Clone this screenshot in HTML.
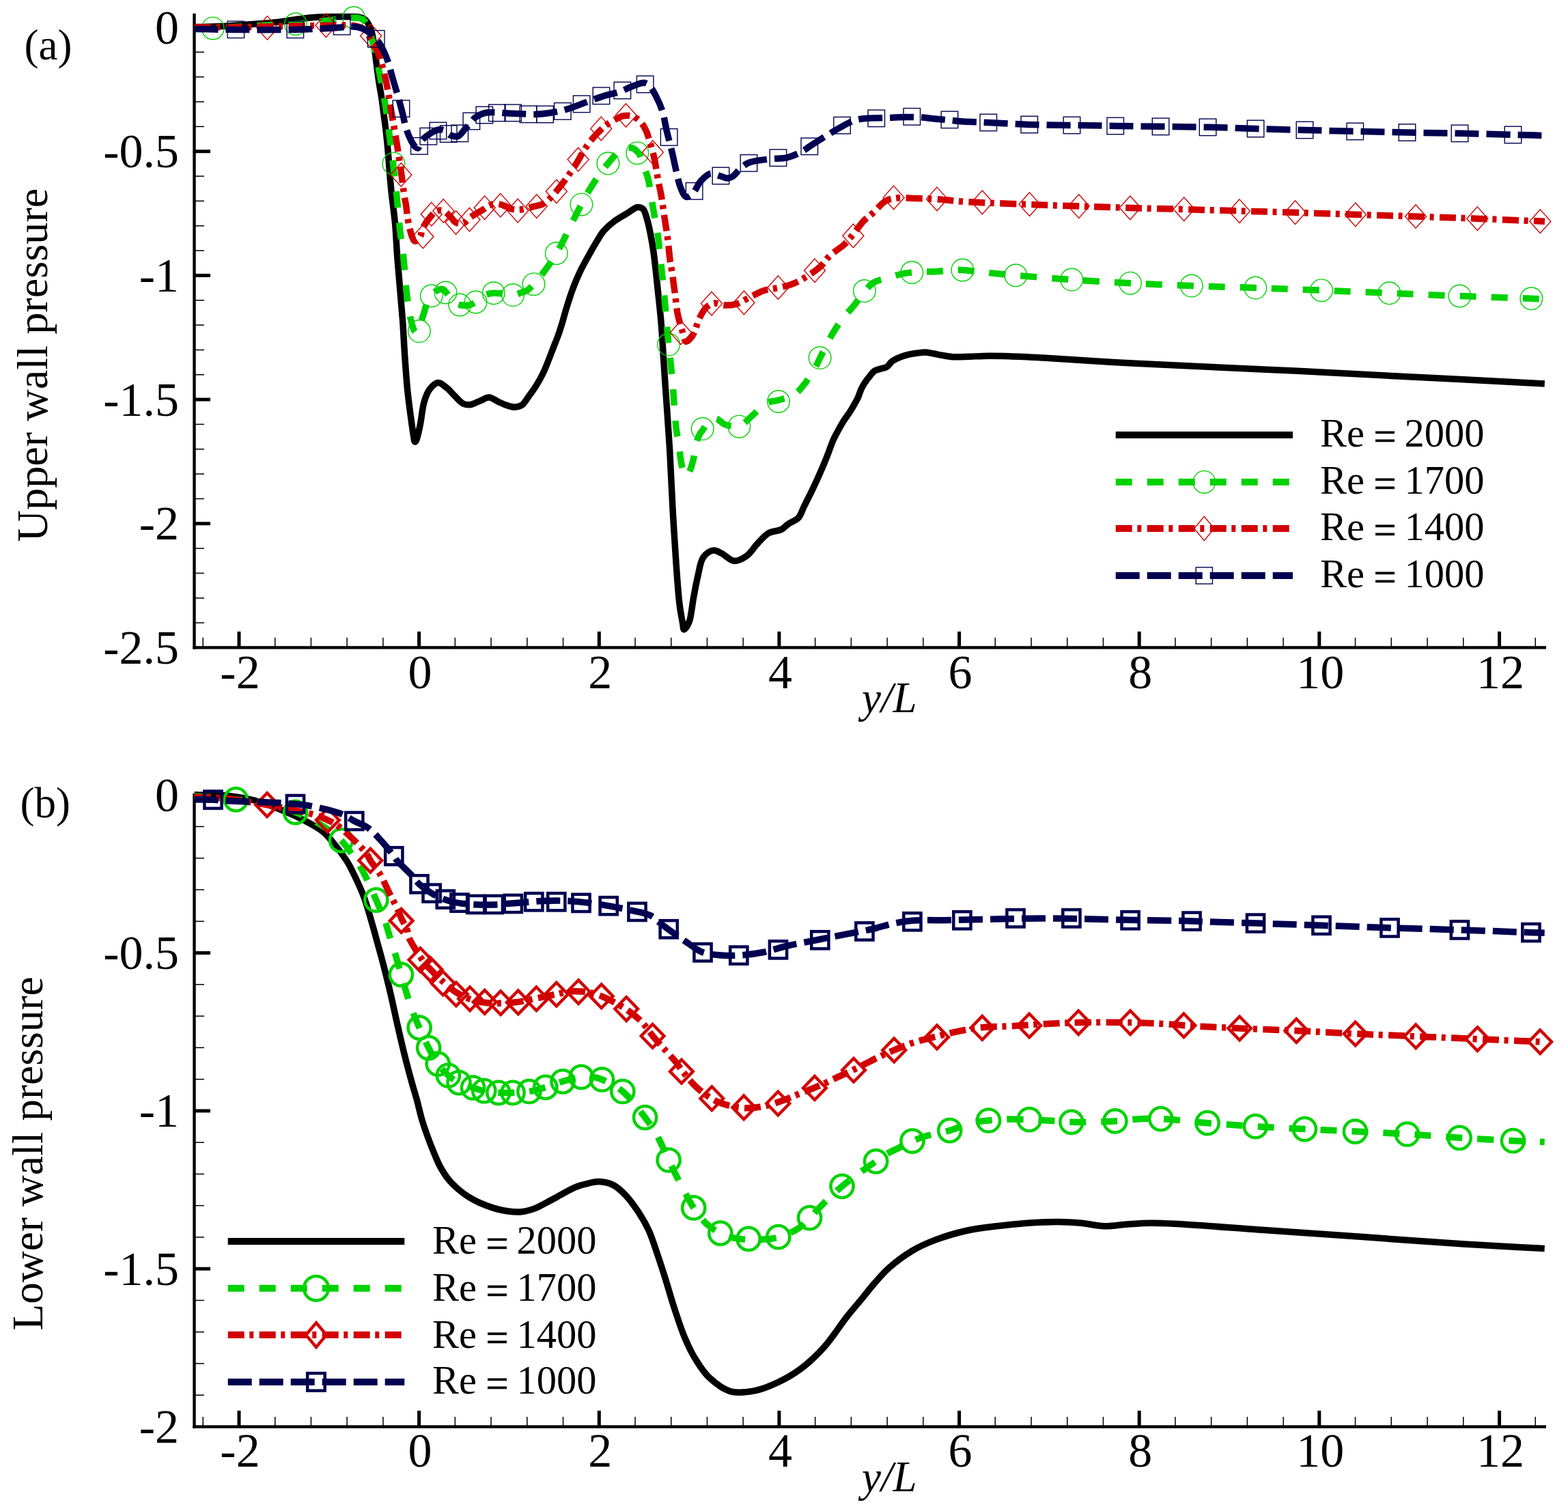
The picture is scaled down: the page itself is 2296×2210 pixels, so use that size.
<!DOCTYPE html><html><head><meta charset="utf-8"><title>Wall pressure</title><style>html,body{margin:0;padding:0;background:#fff;}svg{display:block;}text{font-family:"Liberation Serif","Times New Roman",serif;}</style></head><body>
<svg width="2296" height="2210" viewBox="0 0 2296 2210">
<rect width="2296" height="2210" fill="#fff"/>
<rect x="282.3" y="19.8" width="4.4" height="930.8" fill="#000"/>
<rect x="282.3" y="946.2" width="1981.7" height="4.4" fill="#000"/>
<rect x="347.5" y="924.9" width="5" height="22.0" fill="#000"/>
<rect x="611.1" y="924.9" width="5" height="22.0" fill="#000"/>
<rect x="874.8" y="924.9" width="5" height="22.0" fill="#000"/>
<rect x="1138.4" y="924.9" width="5" height="22.0" fill="#000"/>
<rect x="1402.1" y="924.9" width="5" height="22.0" fill="#000"/>
<rect x="1665.7" y="924.9" width="5" height="22.0" fill="#000"/>
<rect x="1929.3" y="924.9" width="5" height="22.0" fill="#000"/>
<rect x="2193.0" y="924.9" width="5" height="22.0" fill="#000"/>
<rect x="296.5" y="933.9" width="1.5" height="13" fill="#000"/>
<rect x="402.0" y="933.9" width="1.5" height="13" fill="#000"/>
<rect x="454.7" y="933.9" width="1.5" height="13" fill="#000"/>
<rect x="507.4" y="933.9" width="1.5" height="13" fill="#000"/>
<rect x="560.2" y="933.9" width="1.5" height="13" fill="#000"/>
<rect x="665.6" y="933.9" width="1.5" height="13" fill="#000"/>
<rect x="718.3" y="933.9" width="1.5" height="13" fill="#000"/>
<rect x="771.1" y="933.9" width="1.5" height="13" fill="#000"/>
<rect x="823.8" y="933.9" width="1.5" height="13" fill="#000"/>
<rect x="929.3" y="933.9" width="1.5" height="13" fill="#000"/>
<rect x="982.0" y="933.9" width="1.5" height="13" fill="#000"/>
<rect x="1034.7" y="933.9" width="1.5" height="13" fill="#000"/>
<rect x="1087.4" y="933.9" width="1.5" height="13" fill="#000"/>
<rect x="1192.9" y="933.9" width="1.5" height="13" fill="#000"/>
<rect x="1245.6" y="933.9" width="1.5" height="13" fill="#000"/>
<rect x="1298.4" y="933.9" width="1.5" height="13" fill="#000"/>
<rect x="1351.1" y="933.9" width="1.5" height="13" fill="#000"/>
<rect x="1456.5" y="933.9" width="1.5" height="13" fill="#000"/>
<rect x="1509.3" y="933.9" width="1.5" height="13" fill="#000"/>
<rect x="1562.0" y="933.9" width="1.5" height="13" fill="#000"/>
<rect x="1614.7" y="933.9" width="1.5" height="13" fill="#000"/>
<rect x="1720.2" y="933.9" width="1.5" height="13" fill="#000"/>
<rect x="1772.9" y="933.9" width="1.5" height="13" fill="#000"/>
<rect x="1825.6" y="933.9" width="1.5" height="13" fill="#000"/>
<rect x="1878.4" y="933.9" width="1.5" height="13" fill="#000"/>
<rect x="1983.8" y="933.9" width="1.5" height="13" fill="#000"/>
<rect x="2036.5" y="933.9" width="1.5" height="13" fill="#000"/>
<rect x="2089.3" y="933.9" width="1.5" height="13" fill="#000"/>
<rect x="2142.0" y="933.9" width="1.5" height="13" fill="#000"/>
<rect x="2247.5" y="933.9" width="1.5" height="13" fill="#000"/>
<rect x="286" y="37.5" width="22" height="5" fill="#000"/>
<rect x="286" y="219.2" width="22" height="5" fill="#000"/>
<rect x="286" y="400.9" width="22" height="5" fill="#000"/>
<rect x="286" y="582.6" width="22" height="5" fill="#000"/>
<rect x="286" y="764.3" width="22" height="5" fill="#000"/>
<rect x="286" y="75.6" width="13" height="1.5" fill="#000"/>
<rect x="286" y="111.9" width="13" height="1.5" fill="#000"/>
<rect x="286" y="148.3" width="13" height="1.5" fill="#000"/>
<rect x="286" y="184.6" width="13" height="1.5" fill="#000"/>
<rect x="286" y="257.3" width="13" height="1.5" fill="#000"/>
<rect x="286" y="293.6" width="13" height="1.5" fill="#000"/>
<rect x="286" y="330.0" width="13" height="1.5" fill="#000"/>
<rect x="286" y="366.3" width="13" height="1.5" fill="#000"/>
<rect x="286" y="439.0" width="13" height="1.5" fill="#000"/>
<rect x="286" y="475.3" width="13" height="1.5" fill="#000"/>
<rect x="286" y="511.7" width="13" height="1.5" fill="#000"/>
<rect x="286" y="548.0" width="13" height="1.5" fill="#000"/>
<rect x="286" y="620.7" width="13" height="1.5" fill="#000"/>
<rect x="286" y="657.0" width="13" height="1.5" fill="#000"/>
<rect x="286" y="693.4" width="13" height="1.5" fill="#000"/>
<rect x="286" y="729.7" width="13" height="1.5" fill="#000"/>
<rect x="286" y="802.4" width="13" height="1.5" fill="#000"/>
<rect x="286" y="838.7" width="13" height="1.5" fill="#000"/>
<rect x="286" y="875.1" width="13" height="1.5" fill="#000"/>
<rect x="286" y="911.4" width="13" height="1.5" fill="#000"/>
<rect x="282.3" y="1162.1" width="4.4" height="929.6" fill="#000"/>
<rect x="282.3" y="2087.3" width="1981.7" height="4.4" fill="#000"/>
<rect x="347.5" y="2066.0" width="5" height="22.0" fill="#000"/>
<rect x="611.1" y="2066.0" width="5" height="22.0" fill="#000"/>
<rect x="874.8" y="2066.0" width="5" height="22.0" fill="#000"/>
<rect x="1138.4" y="2066.0" width="5" height="22.0" fill="#000"/>
<rect x="1402.1" y="2066.0" width="5" height="22.0" fill="#000"/>
<rect x="1665.7" y="2066.0" width="5" height="22.0" fill="#000"/>
<rect x="1929.3" y="2066.0" width="5" height="22.0" fill="#000"/>
<rect x="2193.0" y="2066.0" width="5" height="22.0" fill="#000"/>
<rect x="296.5" y="2075.0" width="1.5" height="13" fill="#000"/>
<rect x="402.0" y="2075.0" width="1.5" height="13" fill="#000"/>
<rect x="454.7" y="2075.0" width="1.5" height="13" fill="#000"/>
<rect x="507.4" y="2075.0" width="1.5" height="13" fill="#000"/>
<rect x="560.2" y="2075.0" width="1.5" height="13" fill="#000"/>
<rect x="665.6" y="2075.0" width="1.5" height="13" fill="#000"/>
<rect x="718.3" y="2075.0" width="1.5" height="13" fill="#000"/>
<rect x="771.1" y="2075.0" width="1.5" height="13" fill="#000"/>
<rect x="823.8" y="2075.0" width="1.5" height="13" fill="#000"/>
<rect x="929.3" y="2075.0" width="1.5" height="13" fill="#000"/>
<rect x="982.0" y="2075.0" width="1.5" height="13" fill="#000"/>
<rect x="1034.7" y="2075.0" width="1.5" height="13" fill="#000"/>
<rect x="1087.4" y="2075.0" width="1.5" height="13" fill="#000"/>
<rect x="1192.9" y="2075.0" width="1.5" height="13" fill="#000"/>
<rect x="1245.6" y="2075.0" width="1.5" height="13" fill="#000"/>
<rect x="1298.4" y="2075.0" width="1.5" height="13" fill="#000"/>
<rect x="1351.1" y="2075.0" width="1.5" height="13" fill="#000"/>
<rect x="1456.5" y="2075.0" width="1.5" height="13" fill="#000"/>
<rect x="1509.3" y="2075.0" width="1.5" height="13" fill="#000"/>
<rect x="1562.0" y="2075.0" width="1.5" height="13" fill="#000"/>
<rect x="1614.7" y="2075.0" width="1.5" height="13" fill="#000"/>
<rect x="1720.2" y="2075.0" width="1.5" height="13" fill="#000"/>
<rect x="1772.9" y="2075.0" width="1.5" height="13" fill="#000"/>
<rect x="1825.6" y="2075.0" width="1.5" height="13" fill="#000"/>
<rect x="1878.4" y="2075.0" width="1.5" height="13" fill="#000"/>
<rect x="1983.8" y="2075.0" width="1.5" height="13" fill="#000"/>
<rect x="2036.5" y="2075.0" width="1.5" height="13" fill="#000"/>
<rect x="2089.3" y="2075.0" width="1.5" height="13" fill="#000"/>
<rect x="2142.0" y="2075.0" width="1.5" height="13" fill="#000"/>
<rect x="2247.5" y="2075.0" width="1.5" height="13" fill="#000"/>
<rect x="286" y="1161.8" width="22" height="5" fill="#000"/>
<rect x="286" y="1393.1" width="22" height="5" fill="#000"/>
<rect x="286" y="1624.4" width="22" height="5" fill="#000"/>
<rect x="286" y="1855.7" width="22" height="5" fill="#000"/>
<rect x="286" y="1209.8" width="13" height="1.5" fill="#000"/>
<rect x="286" y="1256.1" width="13" height="1.5" fill="#000"/>
<rect x="286" y="1302.3" width="13" height="1.5" fill="#000"/>
<rect x="286" y="1348.6" width="13" height="1.5" fill="#000"/>
<rect x="286" y="1441.1" width="13" height="1.5" fill="#000"/>
<rect x="286" y="1487.4" width="13" height="1.5" fill="#000"/>
<rect x="286" y="1533.6" width="13" height="1.5" fill="#000"/>
<rect x="286" y="1579.9" width="13" height="1.5" fill="#000"/>
<rect x="286" y="1672.4" width="13" height="1.5" fill="#000"/>
<rect x="286" y="1718.7" width="13" height="1.5" fill="#000"/>
<rect x="286" y="1764.9" width="13" height="1.5" fill="#000"/>
<rect x="286" y="1811.2" width="13" height="1.5" fill="#000"/>
<rect x="286" y="1903.7" width="13" height="1.5" fill="#000"/>
<rect x="286" y="1950.0" width="13" height="1.5" fill="#000"/>
<rect x="286" y="1996.2" width="13" height="1.5" fill="#000"/>
<rect x="286" y="2042.5" width="13" height="1.5" fill="#000"/>
<text x="262" y="63.5" font-size="70" text-anchor="end">0</text>
<text x="262" y="245.2" font-size="70" text-anchor="end">-0.5</text>
<text x="262" y="426.9" font-size="70" text-anchor="end">-1</text>
<text x="262" y="608.6" font-size="70" text-anchor="end">-1.5</text>
<text x="262" y="790.3" font-size="70" text-anchor="end">-2</text>
<text x="262" y="972.0" font-size="70" text-anchor="end">-2.5</text>
<text x="262" y="1187.8" font-size="70" text-anchor="end">0</text>
<text x="262" y="1419.1" font-size="70" text-anchor="end">-0.5</text>
<text x="262" y="1650.4" font-size="70" text-anchor="end">-1</text>
<text x="262" y="1881.7" font-size="70" text-anchor="end">-1.5</text>
<text x="262" y="2113.0" font-size="70" text-anchor="end">-2</text>
<text x="351.5" y="1007.5" font-size="70" text-anchor="middle">-2</text>
<text x="615.1" y="1007.5" font-size="70" text-anchor="middle">0</text>
<text x="878.8" y="1007.5" font-size="70" text-anchor="middle">2</text>
<text x="1142.4" y="1007.5" font-size="70" text-anchor="middle">4</text>
<text x="1406.1" y="1007.5" font-size="70" text-anchor="middle">6</text>
<text x="1669.7" y="1007.5" font-size="70" text-anchor="middle">8</text>
<text x="1933.3" y="1007.5" font-size="70" text-anchor="middle">10</text>
<text x="2197.0" y="1007.5" font-size="70" text-anchor="middle">12</text>
<text x="351.5" y="2148.3" font-size="70" text-anchor="middle">-2</text>
<text x="615.1" y="2148.3" font-size="70" text-anchor="middle">0</text>
<text x="878.8" y="2148.3" font-size="70" text-anchor="middle">2</text>
<text x="1142.4" y="2148.3" font-size="70" text-anchor="middle">4</text>
<text x="1406.1" y="2148.3" font-size="70" text-anchor="middle">6</text>
<text x="1669.7" y="2148.3" font-size="70" text-anchor="middle">8</text>
<text x="1933.3" y="2148.3" font-size="70" text-anchor="middle">10</text>
<text x="2197.0" y="2148.3" font-size="70" text-anchor="middle">12</text>
<text x="1262" y="1043" font-size="63" font-style="italic">y/L</text>
<text x="1262" y="2183.5" font-size="63" font-style="italic">y/L</text>
<text transform="translate(69,793.4) rotate(-90)" font-size="64.3">Upper wall pressure</text>
<text transform="translate(61.5,1948.6) rotate(-90)" font-size="63.5">Lower wall pressure</text>
<text x="35.5" y="87" font-size="63">(a)</text>
<text x="29.5" y="1197" font-size="63">(b)</text>
<g>
<path d="M284.5 39.6 C297.3 39.3 309.8 39.2 322.9 38.6 C336.8 37.9 351.4 36.8 365.7 35.7 C380.0 34.6 395.8 33.6 408.6 32.1 C419.1 30.9 427.6 29.1 437.1 27.9 C446.6 26.7 456.4 25.6 465.7 25.0 C474.5 24.5 483.3 24.6 491.4 24.5 C498.6 24.4 505.6 24.3 512.0 24.5 C517.7 24.7 523.8 24.4 528.0 25.5 C530.9 26.3 533.0 27.3 535.0 29.0 C537.1 30.8 538.5 33.3 540.0 36.0 C541.7 39.2 543.1 42.5 544.3 47.0 C546.1 53.5 547.2 63.4 548.4 71.5 C549.6 79.5 550.4 87.4 551.5 95.4 C552.5 103.3 553.5 111.3 554.7 119.2 C555.9 127.1 557.5 135.0 558.7 143.0 C559.9 151.0 560.8 159.0 561.9 167.0 C562.9 174.9 564.0 182.3 565.0 190.8 C566.1 200.6 567.3 212.0 568.2 222.6 C569.1 233.2 569.8 244.4 570.6 254.4 C571.4 263.4 572.0 270.2 573.0 280.0 C574.4 293.5 577.1 311.8 578.6 327.7 C580.0 343.6 580.5 359.5 581.7 375.4 C582.9 391.3 584.4 407.1 585.7 423.0 C587.0 438.9 588.5 454.7 589.7 470.8 C590.9 487.3 591.5 504.1 592.7 520.8 C593.9 537.7 595.1 555.8 596.7 571.8 C598.2 586.2 600.2 600.7 601.8 612.7 C603.1 622.1 604.3 631.7 605.5 638.0 C606.2 641.8 606.5 646.7 607.5 647.0 C608.1 647.2 608.8 646.2 609.5 645.0 C611.4 641.7 613.3 631.1 615.1 622.9 C617.3 612.7 618.3 597.8 621.2 588.2 C623.4 580.9 625.6 574.5 629.4 569.8 C632.7 565.7 637.4 560.8 641.6 560.6 C645.6 560.4 650.0 564.8 653.9 567.8 C658.2 571.1 662.0 576.1 666.1 580.0 C670.1 583.9 674.2 589.2 678.4 591.2 C681.7 592.8 685.0 593.1 688.6 592.7 C693.0 592.2 698.2 588.9 702.9 587.1 C707.4 585.4 711.7 581.9 716.1 582.0 C720.6 582.2 725.3 586.3 729.4 588.2 C733.0 589.8 735.9 591.4 739.6 592.7 C743.9 594.2 749.5 596.4 753.9 596.3 C757.6 596.2 761.0 595.4 764.1 593.3 C768.0 590.6 771.1 584.6 774.5 580.0 C778.1 575.2 781.7 570.3 785.0 565.0 C788.5 559.4 792.0 553.2 795.0 547.0 C798.0 540.8 800.5 534.3 803.0 528.0 C805.5 521.9 807.7 516.0 810.0 510.0 C812.3 504.0 814.9 497.8 817.0 492.0 C818.9 486.8 820.2 482.8 822.0 477.0 C824.4 469.2 827.1 458.6 830.0 449.4 C832.9 440.0 836.2 429.8 839.5 421.0 C842.5 413.0 845.4 406.1 849.0 398.6 C852.8 390.7 857.4 382.5 861.7 374.7 C865.9 367.1 870.5 359.0 874.5 352.5 C877.8 347.2 880.1 342.7 884.0 338.2 C888.4 333.1 894.1 328.1 899.9 323.8 C905.8 319.4 913.1 315.6 919.0 312.0 C924.1 308.9 929.3 304.0 933.5 303.5 C936.5 303.2 939.3 304.0 941.5 306.0 C944.6 308.9 945.9 316.0 947.6 321.7 C949.6 328.0 950.9 334.9 952.4 342.3 C954.1 350.8 955.6 359.1 957.1 370.0 C959.3 385.6 961.6 409.0 963.5 427.2 C965.3 443.8 967.0 459.0 968.3 474.9 C969.6 490.8 970.4 506.7 971.4 522.6 C972.5 538.5 973.6 556.3 974.6 570.3 C975.4 581.4 975.9 588.3 976.7 600.0 C977.9 616.8 979.5 639.3 980.8 661.2 C982.3 686.5 983.4 715.7 984.9 742.9 C986.4 770.1 988.2 799.3 990.0 824.5 C991.6 846.4 993.1 869.6 995.1 885.7 C996.4 896.3 998.3 905.3 999.5 912.0 C1000.3 916.1 1000.3 921.6 1001.5 922.0 C1002.2 922.2 1003.1 921.0 1004.0 920.0 C1005.6 918.0 1007.8 914.6 1009.4 910.2 C1012.2 902.3 1013.4 886.7 1015.5 875.5 C1017.5 865.0 1019.2 854.9 1021.6 844.9 C1024.0 835.2 1025.1 822.9 1029.8 816.3 C1033.4 811.2 1039.3 806.8 1044.1 806.1 C1048.2 805.5 1051.9 808.2 1056.3 810.2 C1061.9 812.8 1068.4 820.8 1074.7 821.4 C1080.7 821.9 1087.6 818.1 1093.1 814.3 C1099.3 810.0 1103.8 801.6 1109.4 795.9 C1114.7 790.4 1119.6 784.0 1125.7 780.6 C1131.3 777.5 1139.1 778.0 1144.1 775.5 C1148.2 773.4 1150.3 770.2 1154.0 767.6 C1158.4 764.5 1165.3 762.5 1169.2 758.3 C1173.1 754.0 1174.5 747.5 1177.3 741.9 C1180.3 735.9 1183.5 729.6 1186.6 723.3 C1189.8 716.8 1192.9 710.1 1196.0 703.4 C1199.2 696.5 1202.5 689.1 1205.3 682.4 C1207.9 676.4 1210.0 670.9 1212.3 665.0 C1214.7 658.9 1216.9 651.8 1219.3 646.3 C1221.2 641.9 1222.8 638.9 1225.1 634.6 C1228.0 629.1 1232.2 621.5 1235.6 616.0 C1238.4 611.5 1241.5 607.9 1244.0 604.0 C1246.2 600.6 1248.0 597.4 1250.0 594.0 C1252.0 590.4 1254.2 586.9 1256.0 583.0 C1257.9 578.9 1259.2 573.9 1261.0 570.0 C1262.6 566.7 1264.1 563.9 1266.0 561.0 C1268.0 557.9 1270.3 554.9 1272.7 552.0 C1275.2 549.0 1277.7 545.1 1280.8 543.1 C1283.7 541.2 1287.5 540.8 1290.6 539.8 C1293.4 538.9 1296.4 538.8 1298.8 537.3 C1301.4 535.7 1302.8 532.0 1305.3 530.0 C1307.7 528.0 1310.7 526.5 1313.5 525.1 C1316.2 523.8 1318.9 522.8 1321.6 521.8 C1324.3 520.9 1326.8 520.1 1329.8 519.4 C1333.4 518.6 1337.9 517.9 1342.0 517.3 C1346.1 516.8 1350.2 516.0 1354.3 516.1 C1358.4 516.2 1362.4 517.1 1366.5 517.8 C1370.6 518.5 1374.4 519.4 1378.8 520.2 C1383.8 521.1 1389.1 522.3 1395.1 522.7 C1402.5 523.2 1412.2 522.5 1420.0 522.3 C1427.0 522.1 1432.3 521.5 1440.0 521.4 C1450.6 521.2 1464.2 521.4 1477.6 521.8 C1493.1 522.2 1508.0 523.0 1527.6 524.1 C1555.6 525.6 1595.6 528.6 1629.6 530.5 C1663.6 532.4 1695.6 533.9 1731.6 535.6 C1771.9 537.5 1829.3 540.0 1860.0 541.4 C1877.1 542.2 1880.0 542.3 1900.0 543.3 C1960.2 546.3 2141.2 555.8 2261.8 562.1" fill="none" stroke="#000000" stroke-width="9.5" stroke-linejoin="round"/>
<circle cx="311.7" cy="41.4" r="16.3" fill="none" stroke="#00d200" stroke-width="1.4"/>
<circle cx="432.9" cy="35.3" r="16.3" fill="none" stroke="#00d200" stroke-width="1.4"/>
<circle cx="518.1" cy="26.0" r="16.3" fill="none" stroke="#00d200" stroke-width="1.4"/>
<circle cx="576.5" cy="239.7" r="16.3" fill="none" stroke="#00d200" stroke-width="1.4"/>
<circle cx="613.9" cy="485.1" r="16.3" fill="none" stroke="#00d200" stroke-width="1.4"/>
<circle cx="631.8" cy="433.3" r="16.3" fill="none" stroke="#00d200" stroke-width="1.4"/>
<circle cx="652.5" cy="428.5" r="16.3" fill="none" stroke="#00d200" stroke-width="1.4"/>
<circle cx="673.3" cy="446.5" r="16.3" fill="none" stroke="#00d200" stroke-width="1.4"/>
<circle cx="696.5" cy="442.5" r="16.3" fill="none" stroke="#00d200" stroke-width="1.4"/>
<circle cx="722.8" cy="429.3" r="16.3" fill="none" stroke="#00d200" stroke-width="1.4"/>
<circle cx="751.1" cy="432.1" r="16.3" fill="none" stroke="#00d200" stroke-width="1.4"/>
<circle cx="781.5" cy="416.2" r="16.3" fill="none" stroke="#00d200" stroke-width="1.4"/>
<circle cx="814.8" cy="371.0" r="16.3" fill="none" stroke="#00d200" stroke-width="1.4"/>
<circle cx="851.4" cy="299.4" r="16.3" fill="none" stroke="#00d200" stroke-width="1.4"/>
<circle cx="890.4" cy="239.3" r="16.3" fill="none" stroke="#00d200" stroke-width="1.4"/>
<circle cx="933.3" cy="224.2" r="16.3" fill="none" stroke="#00d200" stroke-width="1.4"/>
<circle cx="979.1" cy="504.6" r="16.3" fill="none" stroke="#00d200" stroke-width="1.4"/>
<circle cx="1028.7" cy="628.1" r="16.3" fill="none" stroke="#00d200" stroke-width="1.4"/>
<circle cx="1082.3" cy="624.7" r="16.3" fill="none" stroke="#00d200" stroke-width="1.4"/>
<circle cx="1140.0" cy="588.0" r="16.3" fill="none" stroke="#00d200" stroke-width="1.4"/>
<circle cx="1200.6" cy="524.1" r="16.3" fill="none" stroke="#00d200" stroke-width="1.4"/>
<circle cx="1265.9" cy="426.1" r="16.3" fill="none" stroke="#00d200" stroke-width="1.4"/>
<circle cx="1335.3" cy="399.0" r="16.3" fill="none" stroke="#00d200" stroke-width="1.4"/>
<circle cx="1409.4" cy="395.5" r="16.3" fill="none" stroke="#00d200" stroke-width="1.4"/>
<circle cx="1487.3" cy="403.3" r="16.3" fill="none" stroke="#00d200" stroke-width="1.4"/>
<circle cx="1569.2" cy="409.6" r="16.3" fill="none" stroke="#00d200" stroke-width="1.4"/>
<circle cx="1655.0" cy="414.7" r="16.3" fill="none" stroke="#00d200" stroke-width="1.4"/>
<circle cx="1744.7" cy="418.6" r="16.3" fill="none" stroke="#00d200" stroke-width="1.4"/>
<circle cx="1838.3" cy="421.6" r="16.3" fill="none" stroke="#00d200" stroke-width="1.4"/>
<circle cx="1935.0" cy="425.2" r="16.3" fill="none" stroke="#00d200" stroke-width="1.4"/>
<circle cx="2034.4" cy="429.3" r="16.3" fill="none" stroke="#00d200" stroke-width="1.4"/>
<circle cx="2137.4" cy="433.5" r="16.3" fill="none" stroke="#00d200" stroke-width="1.4"/>
<circle cx="2242.3" cy="437.3" r="16.3" fill="none" stroke="#00d200" stroke-width="1.4"/>
<path d="M284.5 41.0 C293.6 41.0 302.2 41.2 311.7 41.0 C322.2 40.8 333.1 40.1 345.0 39.5 C358.9 38.8 375.2 37.7 390.0 37.0 C404.5 36.3 419.1 36.4 432.9 35.3 C445.7 34.3 458.3 32.3 470.0 31.0 C480.5 29.9 491.3 28.9 500.0 28.0 C506.8 27.3 513.3 26.1 518.1 26.0 C521.3 25.9 523.5 25.8 526.0 26.5 C528.5 27.2 531.1 28.2 533.0 30.0 C535.1 31.9 536.5 34.8 538.0 38.0 C540.1 42.3 541.9 48.3 543.6 54.0 C545.6 60.5 547.2 67.1 549.0 75.0 C551.4 85.1 553.9 97.4 556.3 109.7 C559.0 123.6 561.9 139.2 564.3 154.2 C566.7 169.4 568.6 185.1 570.6 200.3 C572.6 215.3 574.5 230.1 576.2 244.8 C577.9 259.3 579.5 273.0 581.0 287.8 C582.6 303.7 583.9 321.2 585.7 337.2 C587.4 352.4 589.7 366.7 591.3 381.7 C592.9 396.9 593.7 413.9 595.3 427.9 C596.7 439.6 598.5 451.5 600.0 460.0 C601.0 465.6 601.8 469.8 603.0 474.0 C604.0 477.6 605.1 481.7 606.5 484.0 C607.4 485.4 608.5 487.1 609.5 487.0 C610.7 486.8 611.9 483.4 613.0 481.0 C614.4 477.9 615.7 473.8 617.0 470.0 C618.4 466.1 619.7 462.0 621.0 458.0 C622.2 454.0 623.1 449.7 624.5 446.0 C625.7 442.7 627.0 439.7 628.6 437.0 C630.2 434.4 632.0 432.0 634.0 430.0 C635.8 428.2 637.7 426.6 640.0 425.5 C642.5 424.3 646.0 422.7 648.5 423.5 C651.4 424.4 653.6 429.0 656.0 432.0 C658.6 435.2 660.5 439.8 663.6 442.2 C666.4 444.4 669.8 445.7 673.3 446.5 C677.1 447.4 682.0 447.7 685.9 447.0 C689.7 446.3 693.5 444.5 696.5 442.5 C699.2 440.7 700.8 437.9 703.4 436.0 C706.2 434.0 709.7 432.1 713.0 431.0 C716.2 429.9 719.3 429.5 722.8 429.3 C726.6 429.1 730.7 429.6 735.0 430.0 C740.0 430.5 745.9 432.5 751.0 432.1 C755.9 431.7 761.2 429.3 765.0 428.0 C767.7 427.1 769.4 426.9 771.7 425.5 C774.9 423.5 778.1 419.8 781.5 416.2 C785.8 411.6 790.2 406.3 795.0 400.0 C801.2 391.9 809.2 380.3 814.8 371.0 C819.6 363.0 823.0 355.9 827.0 348.0 C831.2 339.7 835.3 330.6 839.5 322.3 C843.5 314.4 847.5 306.7 851.4 299.4 C854.9 292.7 857.8 286.8 861.7 280.3 C866.0 273.1 871.1 265.0 876.0 258.0 C880.7 251.4 885.0 245.6 890.4 239.3 C896.5 232.3 904.2 221.6 911.0 218.3 C915.8 216.0 921.4 215.7 925.3 216.7 C928.5 217.5 931.1 219.9 933.3 222.0 C935.3 224.0 936.6 226.1 938.0 229.0 C939.9 232.9 941.1 238.6 942.8 243.8 C944.8 249.7 947.3 255.1 949.2 262.8 C952.0 274.0 953.9 290.9 956.3 304.8 C958.7 318.6 961.5 332.0 963.5 346.1 C965.5 360.6 966.7 375.6 968.3 390.6 C969.9 405.8 971.5 421.3 973.0 436.7 C974.4 452.1 975.9 470.3 977.0 482.8 C977.8 491.4 978.3 497.1 979.1 504.6 C979.9 512.5 980.9 519.6 981.8 528.9 C983.1 541.5 984.6 559.2 985.8 573.5 C986.9 586.8 987.7 601.4 988.6 612.0 C989.3 619.4 989.7 624.4 990.6 631.0 C991.6 638.2 993.4 646.2 994.5 653.7 C995.6 661.2 995.9 669.5 997.2 676.0 C998.2 681.2 999.4 686.2 1001.0 690.0 C1002.2 692.8 1003.6 696.9 1005.0 697.0 C1006.3 697.1 1007.7 694.3 1009.0 692.0 C1011.2 687.9 1013.5 680.1 1015.1 673.6 C1016.9 666.5 1017.3 657.6 1019.0 651.0 C1020.4 645.7 1022.1 640.8 1024.0 637.0 C1025.5 634.2 1026.9 632.6 1028.8 630.0 C1031.3 626.6 1034.2 621.3 1037.6 618.4 C1040.7 615.8 1044.6 612.8 1048.2 613.0 C1052.2 613.2 1056.4 619.3 1060.4 621.2 C1063.7 622.7 1066.6 623.4 1070.0 624.0 C1073.8 624.7 1078.0 626.1 1082.2 624.7 C1088.2 622.7 1094.8 614.5 1101.2 609.0 C1107.9 603.2 1114.5 594.4 1121.6 590.6 C1127.5 587.4 1133.6 587.9 1140.0 586.0 C1147.1 583.9 1156.1 582.3 1162.4 578.4 C1168.2 574.8 1172.0 569.8 1176.7 564.1 C1182.3 557.3 1188.8 547.1 1193.1 539.6 C1196.5 533.7 1198.3 529.0 1201.2 523.3 C1204.4 516.9 1207.9 509.5 1211.4 502.9 C1214.7 496.6 1217.7 490.7 1221.6 484.5 C1225.8 477.8 1231.0 470.4 1235.9 464.1 C1240.5 458.2 1245.5 453.6 1250.2 447.8 C1255.2 441.6 1259.9 433.9 1265.0 428.0 C1269.5 422.8 1273.0 417.7 1278.8 414.1 C1285.4 410.0 1295.7 408.3 1303.3 406.0 C1309.8 404.0 1315.9 402.0 1321.6 400.8 C1326.5 399.8 1331.0 399.5 1335.3 399.0 C1339.1 398.5 1341.8 398.0 1346.1 397.8 C1352.2 397.5 1360.9 398.1 1368.6 397.8 C1376.6 397.5 1385.8 396.1 1393.1 395.7 C1399.1 395.4 1403.1 395.2 1409.4 395.5 C1418.0 395.9 1428.7 397.7 1440.0 398.8 C1454.1 400.2 1469.4 401.8 1487.3 403.3 C1510.9 405.3 1541.6 407.7 1569.2 409.6 C1597.5 411.5 1626.1 413.2 1655.0 414.7 C1684.6 416.2 1714.5 417.5 1744.7 418.6 C1775.6 419.8 1806.8 420.5 1838.3 421.6 C1870.3 422.7 1902.5 423.9 1935.0 425.2 C1967.9 426.5 2001.0 427.9 2034.4 429.3 C2068.4 430.7 2102.9 432.2 2137.4 433.5 C2172.2 434.8 2221.3 436.4 2242.3 437.3 C2251.3 437.7 2255.2 437.9 2261.6 438.2" fill="none" stroke="#00d200" stroke-width="9.5" stroke-linejoin="round" stroke-dasharray="24 22"/>
<path d="M391.4 23.6 L406.9 40.9 L391.4 58.2 L375.9 40.9 Z" fill="none" stroke="#d20000" stroke-width="1.4" stroke-miterlimit="10"/>
<path d="M477.4 20.0 L492.9 37.3 L477.4 54.6 L461.9 37.3 Z" fill="none" stroke="#d20000" stroke-width="1.4" stroke-miterlimit="10"/>
<path d="M543.1 35.2 L558.6 52.5 L543.1 69.8 L527.6 52.5 Z" fill="none" stroke="#d20000" stroke-width="1.4" stroke-miterlimit="10"/>
<path d="M587.3 238.7 L602.8 256.0 L587.3 273.3 L571.8 256.0 Z" fill="none" stroke="#d20000" stroke-width="1.4" stroke-miterlimit="10"/>
<path d="M619.4 329.2 L634.9 346.5 L619.4 363.8 L603.9 346.5 Z" fill="none" stroke="#d20000" stroke-width="1.4" stroke-miterlimit="10"/>
<path d="M631.8 296.4 L647.3 313.7 L631.8 331.0 L616.3 313.7 Z" fill="none" stroke="#d20000" stroke-width="1.4" stroke-miterlimit="10"/>
<path d="M649.3 291.6 L664.8 308.9 L649.3 326.2 L633.8 308.9 Z" fill="none" stroke="#d20000" stroke-width="1.4" stroke-miterlimit="10"/>
<path d="M667.6 308.5 L683.1 325.8 L667.6 343.1 L652.1 325.8 Z" fill="none" stroke="#d20000" stroke-width="1.4" stroke-miterlimit="10"/>
<path d="M687.5 304.3 L703.0 321.6 L687.5 338.9 L672.0 321.6 Z" fill="none" stroke="#d20000" stroke-width="1.4" stroke-miterlimit="10"/>
<path d="M709.7 286.9 L725.2 304.2 L709.7 321.5 L694.2 304.2 Z" fill="none" stroke="#d20000" stroke-width="1.4" stroke-miterlimit="10"/>
<path d="M732.8 283.4 L748.3 300.7 L732.8 318.0 L717.3 300.7 Z" fill="none" stroke="#d20000" stroke-width="1.4" stroke-miterlimit="10"/>
<path d="M758.2 291.3 L773.7 308.6 L758.2 325.9 L742.7 308.6 Z" fill="none" stroke="#d20000" stroke-width="1.4" stroke-miterlimit="10"/>
<path d="M785.8 284.8 L801.3 302.1 L785.8 319.4 L770.3 302.1 Z" fill="none" stroke="#d20000" stroke-width="1.4" stroke-miterlimit="10"/>
<path d="M814.8 263.0 L830.3 280.3 L814.8 297.6 L799.3 280.3 Z" fill="none" stroke="#d20000" stroke-width="1.4" stroke-miterlimit="10"/>
<path d="M846.6 216.3 L862.1 233.6 L846.6 250.9 L831.1 233.6 Z" fill="none" stroke="#d20000" stroke-width="1.4" stroke-miterlimit="10"/>
<path d="M880.3 171.1 L895.8 188.4 L880.3 205.7 L864.8 188.4 Z" fill="none" stroke="#d20000" stroke-width="1.4" stroke-miterlimit="10"/>
<path d="M916.6 151.7 L932.1 169.0 L916.6 186.3 L901.1 169.0 Z" fill="none" stroke="#d20000" stroke-width="1.4" stroke-miterlimit="10"/>
<path d="M955.9 205.8 L971.4 223.1 L955.9 240.4 L940.4 223.1 Z" fill="none" stroke="#d20000" stroke-width="1.4" stroke-miterlimit="10"/>
<path d="M996.9 469.8 L1012.4 487.1 L996.9 504.4 L981.4 487.1 Z" fill="none" stroke="#d20000" stroke-width="1.4" stroke-miterlimit="10"/>
<path d="M1042.0 427.3 L1057.5 444.6 L1042.0 461.9 L1026.5 444.6 Z" fill="none" stroke="#d20000" stroke-width="1.4" stroke-miterlimit="10"/>
<path d="M1089.4 426.0 L1104.9 443.3 L1089.4 460.6 L1073.9 443.3 Z" fill="none" stroke="#d20000" stroke-width="1.4" stroke-miterlimit="10"/>
<path d="M1139.4 403.9 L1154.9 421.2 L1139.4 438.5 L1123.9 421.2 Z" fill="none" stroke="#d20000" stroke-width="1.4" stroke-miterlimit="10"/>
<path d="M1193.0 378.9 L1208.5 396.2 L1193.0 413.5 L1177.5 396.2 Z" fill="none" stroke="#d20000" stroke-width="1.4" stroke-miterlimit="10"/>
<path d="M1249.4 328.0 L1264.9 345.3 L1249.4 362.6 L1233.9 345.3 Z" fill="none" stroke="#d20000" stroke-width="1.4" stroke-miterlimit="10"/>
<path d="M1308.6 272.1 L1324.1 289.4 L1308.6 306.7 L1293.1 289.4 Z" fill="none" stroke="#d20000" stroke-width="1.4" stroke-miterlimit="10"/>
<path d="M1372.0 274.1 L1387.5 291.4 L1372.0 308.7 L1356.5 291.4 Z" fill="none" stroke="#d20000" stroke-width="1.4" stroke-miterlimit="10"/>
<path d="M1438.3 279.0 L1453.8 296.3 L1438.3 313.6 L1422.8 296.3 Z" fill="none" stroke="#d20000" stroke-width="1.4" stroke-miterlimit="10"/>
<path d="M1507.5 281.9 L1523.0 299.2 L1507.5 316.5 L1492.0 299.2 Z" fill="none" stroke="#d20000" stroke-width="1.4" stroke-miterlimit="10"/>
<path d="M1579.7 284.8 L1595.2 302.1 L1579.7 319.4 L1564.2 302.1 Z" fill="none" stroke="#d20000" stroke-width="1.4" stroke-miterlimit="10"/>
<path d="M1654.8 287.0 L1670.3 304.3 L1654.8 321.6 L1639.3 304.3 Z" fill="none" stroke="#d20000" stroke-width="1.4" stroke-miterlimit="10"/>
<path d="M1733.7 289.0 L1749.2 306.3 L1733.7 323.6 L1718.2 306.3 Z" fill="none" stroke="#d20000" stroke-width="1.4" stroke-miterlimit="10"/>
<path d="M1814.9 291.9 L1830.4 309.2 L1814.9 326.5 L1799.4 309.2 Z" fill="none" stroke="#d20000" stroke-width="1.4" stroke-miterlimit="10"/>
<path d="M1896.6 293.9 L1912.1 311.2 L1896.6 328.5 L1881.1 311.2 Z" fill="none" stroke="#d20000" stroke-width="1.4" stroke-miterlimit="10"/>
<path d="M1984.8 297.0 L2000.3 314.3 L1984.8 331.6 L1969.3 314.3 Z" fill="none" stroke="#d20000" stroke-width="1.4" stroke-miterlimit="10"/>
<path d="M2073.0 299.7 L2088.5 317.0 L2073.0 334.3 L2057.5 317.0 Z" fill="none" stroke="#d20000" stroke-width="1.4" stroke-miterlimit="10"/>
<path d="M2163.3 302.9 L2178.8 320.2 L2163.3 337.5 L2147.8 320.2 Z" fill="none" stroke="#d20000" stroke-width="1.4" stroke-miterlimit="10"/>
<path d="M2255.3 306.9 L2270.8 324.2 L2255.3 341.5 L2239.8 324.2 Z" fill="none" stroke="#d20000" stroke-width="1.4" stroke-miterlimit="10"/>
<path d="M284.5 40.0 C303.0 40.0 321.9 40.2 340.0 40.0 C357.5 39.8 374.5 39.3 391.4 39.0 C407.8 38.7 424.9 38.3 440.0 38.0 C453.3 37.7 465.9 37.5 477.4 37.3 C487.3 37.2 497.2 36.8 505.0 37.0 C510.8 37.2 515.3 37.1 520.0 38.0 C524.3 38.8 528.9 40.1 532.0 42.0 C534.6 43.6 536.2 45.5 538.0 48.0 C540.2 51.2 541.4 55.7 543.6 60.0 C546.3 65.1 550.2 69.5 553.1 76.3 C557.3 86.2 561.2 101.2 564.3 114.5 C567.6 128.7 569.6 144.0 572.2 159.0 C574.9 174.2 577.7 189.6 580.2 205.0 C582.7 220.4 585.2 236.5 587.3 251.2 C589.2 264.7 591.0 281.3 592.5 290.0 C593.2 294.4 593.9 296.1 594.5 300.0 C595.4 305.5 596.0 313.8 597.0 320.0 C597.9 325.4 598.8 330.2 600.0 335.0 C601.1 339.5 602.5 344.7 604.0 348.0 C604.9 350.1 605.7 352.5 607.0 353.0 C608.1 353.5 609.7 352.9 611.0 352.0 C612.8 350.8 614.8 347.6 616.0 345.0 C617.3 342.2 616.7 339.1 618.3 335.6 C620.7 330.2 627.0 321.3 631.0 316.6 C633.8 313.3 635.8 310.3 639.0 309.0 C642.2 307.7 646.6 307.7 650.0 309.0 C653.7 310.4 656.9 315.0 660.0 318.0 C662.8 320.7 664.5 324.5 667.6 326.0 C670.7 327.5 675.5 328.1 678.7 327.0 C681.9 325.9 683.8 322.0 686.7 319.7 C689.8 317.3 693.5 315.1 697.0 313.0 C700.4 310.9 704.0 309.1 707.3 307.0 C710.4 305.1 712.7 302.4 716.0 301.0 C719.5 299.5 724.0 298.3 728.0 298.5 C732.0 298.7 736.4 300.6 740.0 302.0 C743.2 303.2 745.5 305.2 748.7 306.0 C752.1 306.9 756.1 307.1 759.8 307.0 C763.5 306.9 767.4 306.2 771.0 305.4 C774.4 304.7 777.2 303.5 780.7 302.6 C784.6 301.5 789.5 301.2 793.4 299.4 C797.4 297.5 800.9 294.7 804.5 291.4 C808.8 287.5 812.9 282.3 817.2 277.1 C821.9 271.3 826.9 264.5 831.5 258.1 C836.0 251.8 840.3 245.4 844.3 239.0 C848.2 232.7 851.4 226.0 855.4 219.9 C859.3 213.8 863.3 208.0 868.1 202.4 C873.3 196.4 879.5 189.8 885.6 184.9 C891.2 180.4 898.1 176.4 903.1 173.8 C906.7 171.9 909.0 170.4 912.6 169.8 C916.8 169.1 922.6 169.1 926.9 170.6 C931.1 172.1 935.0 175.3 938.1 178.6 C941.4 182.1 943.7 186.5 946.0 191.3 C948.6 196.9 950.4 203.9 952.4 210.4 C954.4 217.1 956.2 223.4 957.9 231.0 C960.0 240.4 961.6 253.0 963.5 262.8 C965.1 271.3 966.8 278.1 968.3 286.7 C970.0 296.5 971.4 307.9 973.0 318.5 C974.6 329.1 976.5 339.9 977.8 350.3 C979.1 360.4 980.0 373.0 981.0 380.0 C981.6 383.9 982.0 385.3 982.6 389.0 C983.5 394.8 984.7 403.7 985.8 411.3 C986.9 419.1 988.0 427.2 989.0 435.1 C990.1 443.1 990.5 451.1 992.1 459.0 C993.7 467.0 996.2 475.5 998.5 482.8 C1000.5 489.1 1001.8 499.6 1004.8 500.3 C1007.4 500.9 1011.6 495.1 1014.4 490.8 C1018.3 484.9 1020.4 473.9 1023.9 466.9 C1026.8 460.9 1029.5 454.9 1033.4 451.0 C1036.7 447.7 1040.7 444.8 1045.0 444.0 C1049.6 443.2 1055.2 446.7 1060.4 447.0 C1065.7 447.3 1070.9 447.3 1076.7 445.7 C1084.2 443.6 1093.6 437.1 1101.2 433.5 C1107.7 430.4 1113.0 427.3 1119.6 425.3 C1126.6 423.1 1134.8 422.9 1142.0 421.2 C1149.0 419.5 1155.7 417.9 1162.4 415.1 C1169.4 412.2 1176.4 408.0 1182.9 403.9 C1189.3 399.8 1195.7 395.6 1201.2 390.6 C1206.6 385.6 1210.0 379.2 1215.5 374.0 C1221.4 368.4 1229.9 364.0 1235.9 358.4 C1241.4 353.3 1245.5 347.7 1250.2 342.0 C1255.0 336.1 1259.5 329.0 1264.5 323.7 C1269.0 318.9 1273.8 315.9 1278.8 311.4 C1284.6 306.2 1290.7 297.6 1297.1 294.1 C1302.4 291.2 1307.2 290.7 1313.5 290.0 C1321.6 289.1 1332.9 290.4 1342.0 290.6 C1350.5 290.8 1358.7 290.9 1366.5 291.4 C1373.6 291.8 1380.1 292.5 1386.9 293.1 C1393.7 293.7 1400.0 294.6 1407.3 295.1 C1415.6 295.7 1422.8 296.0 1433.9 296.5 C1452.3 297.4 1483.1 298.6 1507.5 299.5 C1531.8 300.4 1555.6 301.2 1580.0 302.0 C1604.8 302.8 1629.7 303.8 1655.0 304.5 C1681.0 305.3 1707.5 305.8 1734.0 306.5 C1760.8 307.3 1787.9 308.2 1815.0 309.0 C1842.2 309.8 1869.2 310.4 1897.0 311.3 C1925.8 312.2 1955.7 313.3 1985.0 314.3 C2014.3 315.2 2043.5 316.0 2073.0 317.0 C2102.8 318.0 2132.3 319.0 2163.0 320.2 C2195.2 321.4 2229.0 322.9 2262.0 324.3" fill="none" stroke="#d20000" stroke-width="9.5" stroke-linejoin="round" stroke-dasharray="24 7.6 6 8.4"/>
<rect x="333.1" y="31.1" width="24.5" height="24.5" fill="none" stroke="#000050" stroke-width="1.4"/>
<rect x="420.1" y="31.1" width="24.5" height="24.5" fill="none" stroke="#000050" stroke-width="1.4"/>
<rect x="488.4" y="26.4" width="24.5" height="24.5" fill="none" stroke="#000050" stroke-width="1.4"/>
<rect x="538.5" y="44.6" width="24.5" height="24.5" fill="none" stroke="#000050" stroke-width="1.4"/>
<rect x="575.2" y="146.9" width="24.5" height="24.5" fill="none" stroke="#000050" stroke-width="1.4"/>
<rect x="601.6" y="201.6" width="24.5" height="24.5" fill="none" stroke="#000050" stroke-width="1.4"/>
<rect x="615.1" y="187.4" width="24.5" height="24.5" fill="none" stroke="#000050" stroke-width="1.4"/>
<rect x="629.2" y="179.2" width="24.5" height="24.5" fill="none" stroke="#000050" stroke-width="1.4"/>
<rect x="644.5" y="183.8" width="24.5" height="24.5" fill="none" stroke="#000050" stroke-width="1.4"/>
<rect x="661.0" y="183.1" width="24.5" height="24.5" fill="none" stroke="#000050" stroke-width="1.4"/>
<rect x="678.1" y="165.2" width="24.5" height="24.5" fill="none" stroke="#000050" stroke-width="1.4"/>
<rect x="697.1" y="156.2" width="24.5" height="24.5" fill="none" stroke="#000050" stroke-width="1.4"/>
<rect x="715.6" y="153.1" width="24.5" height="24.5" fill="none" stroke="#000050" stroke-width="1.4"/>
<rect x="739.0" y="153.1" width="24.5" height="24.5" fill="none" stroke="#000050" stroke-width="1.4"/>
<rect x="761.2" y="155.1" width="24.5" height="24.5" fill="none" stroke="#000050" stroke-width="1.4"/>
<rect x="785.8" y="155.2" width="24.5" height="24.5" fill="none" stroke="#000050" stroke-width="1.4"/>
<rect x="811.6" y="150.6" width="24.5" height="24.5" fill="none" stroke="#000050" stroke-width="1.4"/>
<rect x="839.4" y="140.1" width="24.5" height="24.5" fill="none" stroke="#000050" stroke-width="1.4"/>
<rect x="868.2" y="128.1" width="24.5" height="24.5" fill="none" stroke="#000050" stroke-width="1.4"/>
<rect x="899.1" y="120.2" width="24.5" height="24.5" fill="none" stroke="#000050" stroke-width="1.4"/>
<rect x="932.4" y="111.2" width="24.5" height="24.5" fill="none" stroke="#000050" stroke-width="1.4"/>
<rect x="967.4" y="188.6" width="24.5" height="24.5" fill="none" stroke="#000050" stroke-width="1.4"/>
<rect x="1004.4" y="267.6" width="24.5" height="24.5" fill="none" stroke="#000050" stroke-width="1.4"/>
<rect x="1043.2" y="245.2" width="24.5" height="24.5" fill="none" stroke="#000050" stroke-width="1.4"/>
<rect x="1084.2" y="226.6" width="24.5" height="24.5" fill="none" stroke="#000050" stroke-width="1.4"/>
<rect x="1127.2" y="218.9" width="24.5" height="24.5" fill="none" stroke="#000050" stroke-width="1.4"/>
<rect x="1173.0" y="202.1" width="24.5" height="24.5" fill="none" stroke="#000050" stroke-width="1.4"/>
<rect x="1220.8" y="171.4" width="24.5" height="24.5" fill="none" stroke="#000050" stroke-width="1.4"/>
<rect x="1271.0" y="161.1" width="24.5" height="24.5" fill="none" stroke="#000050" stroke-width="1.4"/>
<rect x="1323.0" y="158.6" width="24.5" height="24.5" fill="none" stroke="#000050" stroke-width="1.4"/>
<rect x="1378.2" y="163.1" width="24.5" height="24.5" fill="none" stroke="#000050" stroke-width="1.4"/>
<rect x="1435.0" y="167.2" width="24.5" height="24.5" fill="none" stroke="#000050" stroke-width="1.4"/>
<rect x="1495.0" y="170.2" width="24.5" height="24.5" fill="none" stroke="#000050" stroke-width="1.4"/>
<rect x="1557.2" y="171.2" width="24.5" height="24.5" fill="none" stroke="#000050" stroke-width="1.4"/>
<rect x="1621.0" y="172.2" width="24.5" height="24.5" fill="none" stroke="#000050" stroke-width="1.4"/>
<rect x="1687.3" y="173.1" width="24.5" height="24.5" fill="none" stroke="#000050" stroke-width="1.4"/>
<rect x="1756.3" y="174.1" width="24.5" height="24.5" fill="none" stroke="#000050" stroke-width="1.4"/>
<rect x="1826.3" y="176.2" width="24.5" height="24.5" fill="none" stroke="#000050" stroke-width="1.4"/>
<rect x="1898.2" y="178.2" width="24.5" height="24.5" fill="none" stroke="#000050" stroke-width="1.4"/>
<rect x="1972.0" y="180.2" width="24.5" height="24.5" fill="none" stroke="#000050" stroke-width="1.4"/>
<rect x="2048.2" y="181.8" width="24.5" height="24.5" fill="none" stroke="#000050" stroke-width="1.4"/>
<rect x="2125.2" y="183.1" width="24.5" height="24.5" fill="none" stroke="#000050" stroke-width="1.4"/>
<rect x="2203.2" y="185.2" width="24.5" height="24.5" fill="none" stroke="#000050" stroke-width="1.4"/>
<path d="M284.5 42.5 C304.7 42.8 323.0 43.3 345.0 43.5 C371.4 43.7 408.9 43.8 432.0 43.4 C447.3 43.1 458.1 42.6 470.0 42.0 C480.6 41.5 492.1 40.7 500.0 40.0 C505.2 39.5 508.4 38.5 513.0 38.6 C518.3 38.7 525.2 39.7 530.0 41.4 C533.9 42.8 537.1 44.9 540.0 47.1 C542.7 49.2 544.7 51.9 547.1 54.3 C549.6 56.8 552.2 58.5 554.7 62.0 C558.5 67.3 562.6 76.1 565.9 84.3 C569.7 93.8 572.4 105.9 575.4 116.0 C578.2 125.4 580.9 134.3 583.3 143.0 C585.6 151.2 587.8 159.3 589.7 167.0 C591.5 174.1 592.4 180.9 594.5 187.6 C596.6 194.2 599.7 201.7 602.4 206.7 C604.3 210.1 606.1 213.3 608.0 215.0 C609.3 216.1 610.7 217.4 612.0 217.0 C614.2 216.3 615.3 208.6 618.3 205.0 C621.8 200.8 628.2 196.6 632.6 194.0 C635.9 192.1 638.9 190.4 642.0 190.0 C644.7 189.6 647.4 189.9 650.1 191.0 C653.3 192.3 656.1 196.6 659.6 198.0 C663.0 199.4 667.5 200.6 670.8 199.5 C674.4 198.3 677.2 193.0 680.0 190.0 C682.4 187.4 684.3 185.5 686.7 182.8 C689.6 179.5 692.3 174.6 696.2 171.7 C700.2 168.7 705.4 166.5 710.5 165.3 C715.9 164.0 722.5 164.4 728.0 164.5 C733.0 164.6 737.3 165.5 742.3 165.8 C747.9 166.2 753.7 166.3 760.0 166.5 C767.3 166.8 775.9 167.6 783.8 167.4 C791.8 167.2 799.8 166.3 807.7 165.0 C815.7 163.7 823.2 162.0 831.5 159.5 C841.1 156.7 852.0 151.8 861.7 148.4 C870.5 145.2 879.3 142.0 887.2 139.6 C894.0 137.6 899.9 136.9 906.3 134.8 C913.1 132.5 920.4 128.4 926.9 126.1 C932.5 124.1 938.6 121.0 942.8 121.3 C945.7 121.5 947.7 122.5 950.0 124.5 C953.6 127.6 957.2 134.5 960.3 140.4 C963.9 147.1 967.3 154.7 969.9 162.7 C972.7 171.5 973.9 181.5 976.2 191.3 C978.6 201.6 981.8 212.8 984.2 223.1 C986.5 232.9 988.3 242.6 990.5 251.7 C992.5 260.0 994.1 269.1 996.9 275.6 C999.1 280.7 1001.5 287.4 1004.8 288.3 C1007.6 289.1 1011.4 286.2 1014.4 283.5 C1018.5 279.8 1021.1 271.0 1025.5 266.0 C1029.7 261.3 1034.8 255.4 1040.0 254.3 C1044.7 253.3 1050.5 256.8 1055.0 258.0 C1058.7 259.0 1062.0 261.0 1065.0 261.0 C1067.5 261.0 1069.5 260.5 1072.0 259.0 C1075.9 256.7 1080.5 249.7 1084.9 246.1 C1088.9 242.9 1091.8 240.1 1097.1 238.0 C1104.8 235.0 1118.1 234.1 1127.8 232.9 C1136.4 231.8 1144.5 232.6 1152.2 230.8 C1159.5 229.1 1166.6 225.8 1172.7 222.7 C1178.0 220.0 1181.6 216.9 1186.9 213.5 C1193.5 209.2 1201.9 203.8 1209.4 199.2 C1216.8 194.6 1224.6 189.8 1231.8 185.9 C1238.2 182.4 1244.3 178.7 1250.2 176.7 C1255.2 175.0 1258.8 174.4 1264.5 173.7 C1272.7 172.7 1284.9 173.0 1295.1 172.7 C1305.3 172.3 1316.5 171.8 1325.7 171.6 C1333.2 171.5 1339.3 171.3 1346.1 171.6 C1352.9 171.9 1359.7 173.0 1366.5 173.7 C1373.3 174.4 1380.1 175.0 1386.9 175.7 C1393.7 176.4 1400.2 177.3 1407.3 177.8 C1415.1 178.4 1424.6 178.5 1431.8 178.8 C1437.5 179.0 1440.3 179.2 1447.0 179.5 C1460.4 180.1 1486.8 181.8 1507.0 182.4 C1527.5 183.1 1548.2 183.1 1569.0 183.4 C1590.2 183.7 1611.4 184.1 1633.0 184.4 C1655.1 184.7 1677.5 185.0 1700.0 185.3 C1722.8 185.6 1745.9 185.8 1769.0 186.3 C1792.3 186.8 1815.6 187.8 1839.0 188.5 C1862.6 189.2 1886.1 189.8 1910.0 190.4 C1934.4 191.1 1959.2 191.8 1984.0 192.4 C2009.2 193.0 2034.6 193.5 2060.0 194.0 C2085.6 194.5 2111.3 194.7 2137.0 195.3 C2162.9 195.9 2192.3 196.8 2215.0 197.4 C2232.6 197.8 2246.3 198.1 2262.0 198.5" fill="none" stroke="#000050" stroke-width="9.5" stroke-linejoin="round" stroke-dasharray="35 11"/>
</g>
<g>
<path d="M284.5 1164.0 C301.4 1164.5 319.6 1164.0 335.1 1165.6 C348.4 1167.0 359.7 1168.8 371.8 1172.0 C384.2 1175.2 396.4 1180.0 408.6 1184.9 C420.9 1189.8 434.1 1195.5 445.3 1201.4 C455.3 1206.6 465.0 1211.5 472.9 1218.0 C480.1 1223.9 485.3 1230.9 491.2 1238.2 C497.6 1246.1 504.3 1255.1 509.6 1263.9 C514.7 1272.3 518.5 1281.0 522.5 1289.6 C526.5 1298.1 530.0 1305.8 533.5 1315.3 C537.6 1326.6 541.6 1341.2 545.0 1353.0 C548.0 1363.3 550.3 1372.3 553.0 1382.0 C555.7 1391.7 558.2 1400.6 561.0 1411.3 C564.3 1424.1 568.1 1439.1 571.5 1453.7 C575.1 1469.1 578.5 1485.7 582.1 1501.4 C585.6 1516.6 589.1 1531.9 592.7 1546.4 C596.1 1560.1 600.0 1574.3 603.3 1586.2 C606.0 1596.0 608.6 1604.0 611.0 1613.0 C613.4 1622.0 615.3 1631.2 617.9 1640.0 C620.5 1648.7 623.5 1657.2 626.5 1665.5 C629.4 1673.5 632.5 1681.5 635.7 1689.0 C638.7 1696.1 641.3 1702.9 644.9 1709.4 C648.5 1715.8 652.6 1722.3 657.1 1727.8 C661.4 1733.1 666.4 1737.7 671.4 1742.0 C676.3 1746.2 681.5 1750.0 686.7 1753.3 C691.7 1756.4 696.4 1758.9 702.0 1761.4 C708.2 1764.2 715.5 1767.0 722.4 1769.1 C729.2 1771.1 736.0 1772.8 742.9 1773.7 C749.7 1774.6 756.5 1775.4 763.3 1774.7 C770.2 1774.0 777.4 1771.9 783.7 1769.6 C789.6 1767.4 794.6 1764.2 800.0 1761.4 C805.5 1758.5 810.4 1755.8 816.5 1752.5 C824.1 1748.4 834.1 1742.1 842.1 1738.8 C848.6 1736.1 854.4 1734.7 860.4 1733.3 C866.0 1732.0 871.2 1730.3 877.0 1730.5 C883.4 1730.7 891.0 1732.1 897.2 1735.1 C903.9 1738.3 909.7 1743.9 915.5 1749.8 C922.0 1756.5 928.2 1765.2 933.9 1773.7 C939.8 1782.5 945.3 1791.8 950.0 1802.0 C955.1 1813.1 958.8 1825.9 963.0 1838.0 C967.2 1850.2 971.1 1862.5 975.0 1875.0 C979.0 1887.9 982.5 1900.8 986.9 1914.3 C991.7 1928.8 997.0 1945.7 1002.7 1959.2 C1007.6 1970.8 1012.3 1980.8 1018.4 1990.6 C1024.3 2000.2 1030.3 2009.9 1038.6 2017.6 C1047.3 2025.7 1058.7 2034.7 1070.0 2037.8 C1081.1 2040.9 1094.3 2038.9 1105.9 2036.6 C1117.5 2034.3 1128.6 2029.5 1139.6 2024.3 C1151.1 2018.8 1162.5 2012.2 1173.3 2004.1 C1185.0 1995.3 1196.2 1984.6 1206.9 1972.7 C1218.7 1959.5 1230.3 1940.8 1240.6 1927.8 C1248.7 1917.5 1256.2 1909.2 1263.1 1900.8 C1269.2 1893.4 1273.8 1887.0 1280.0 1880.0 C1286.8 1872.2 1293.8 1863.9 1302.4 1856.3 C1312.2 1847.7 1324.5 1838.5 1336.1 1831.6 C1347.0 1825.1 1357.6 1820.5 1369.8 1815.9 C1383.5 1810.7 1399.6 1805.9 1414.7 1802.5 C1429.6 1799.2 1444.6 1797.6 1459.6 1795.7 C1474.5 1793.8 1489.5 1792.3 1504.5 1791.2 C1519.5 1790.2 1535.5 1789.3 1549.4 1789.4 C1561.4 1789.5 1571.9 1790.2 1583.1 1791.2 C1594.3 1792.3 1605.5 1795.4 1616.7 1795.7 C1627.9 1796.0 1639.2 1793.8 1650.4 1793.0 C1661.6 1792.3 1672.7 1791.3 1684.1 1791.2 C1695.9 1791.1 1704.4 1791.5 1720.0 1792.3 C1749.6 1793.8 1803.8 1798.1 1848.0 1801.2 C1895.5 1804.5 1946.7 1808.1 1996.0 1811.6 C2045.3 1815.1 2097.4 1819.1 2143.9 1822.0 C2185.4 1824.6 2222.4 1826.3 2261.7 1828.5" fill="none" stroke="#000000" stroke-width="9.5" stroke-linejoin="round"/>
<circle cx="345.4" cy="1170.9" r="16.6" fill="none" stroke="#00d200" stroke-width="4.5"/>
<circle cx="432.6" cy="1189.7" r="16.6" fill="none" stroke="#00d200" stroke-width="4.5"/>
<circle cx="499.5" cy="1230.8" r="16.6" fill="none" stroke="#00d200" stroke-width="4.5"/>
<circle cx="550.8" cy="1318.1" r="16.6" fill="none" stroke="#00d200" stroke-width="4.5"/>
<circle cx="587.4" cy="1427.3" r="16.6" fill="none" stroke="#00d200" stroke-width="4.5"/>
<circle cx="614.1" cy="1505.1" r="16.6" fill="none" stroke="#00d200" stroke-width="4.5"/>
<circle cx="627.6" cy="1534.6" r="16.6" fill="none" stroke="#00d200" stroke-width="4.5"/>
<circle cx="641.2" cy="1558.1" r="16.6" fill="none" stroke="#00d200" stroke-width="4.5"/>
<circle cx="656.4" cy="1575.0" r="16.6" fill="none" stroke="#00d200" stroke-width="4.5"/>
<circle cx="672.0" cy="1585.6" r="16.6" fill="none" stroke="#00d200" stroke-width="4.5"/>
<circle cx="692.6" cy="1593.0" r="16.6" fill="none" stroke="#00d200" stroke-width="4.5"/>
<circle cx="708.8" cy="1597.6" r="16.6" fill="none" stroke="#00d200" stroke-width="4.5"/>
<circle cx="729.9" cy="1600.3" r="16.6" fill="none" stroke="#00d200" stroke-width="4.5"/>
<circle cx="751.0" cy="1600.3" r="16.6" fill="none" stroke="#00d200" stroke-width="4.5"/>
<circle cx="774.9" cy="1598.5" r="16.6" fill="none" stroke="#00d200" stroke-width="4.5"/>
<circle cx="798.8" cy="1592.4" r="16.6" fill="none" stroke="#00d200" stroke-width="4.5"/>
<circle cx="824.0" cy="1583.8" r="16.6" fill="none" stroke="#00d200" stroke-width="4.5"/>
<circle cx="851.1" cy="1577.4" r="16.6" fill="none" stroke="#00d200" stroke-width="4.5"/>
<circle cx="881.5" cy="1581.0" r="16.6" fill="none" stroke="#00d200" stroke-width="4.5"/>
<circle cx="911.8" cy="1598.5" r="16.6" fill="none" stroke="#00d200" stroke-width="4.5"/>
<circle cx="944.6" cy="1636.6" r="16.6" fill="none" stroke="#00d200" stroke-width="4.5"/>
<circle cx="979.1" cy="1699.0" r="16.6" fill="none" stroke="#00d200" stroke-width="4.5"/>
<circle cx="1015.7" cy="1768.9" r="16.6" fill="none" stroke="#00d200" stroke-width="4.5"/>
<circle cx="1054.8" cy="1806.1" r="16.6" fill="none" stroke="#00d200" stroke-width="4.5"/>
<circle cx="1096.1" cy="1814.4" r="16.6" fill="none" stroke="#00d200" stroke-width="4.5"/>
<circle cx="1139.7" cy="1811.7" r="16.6" fill="none" stroke="#00d200" stroke-width="4.5"/>
<circle cx="1185.6" cy="1783.6" r="16.6" fill="none" stroke="#00d200" stroke-width="4.5"/>
<circle cx="1233.0" cy="1737.3" r="16.6" fill="none" stroke="#00d200" stroke-width="4.5"/>
<circle cx="1282.6" cy="1700.9" r="16.6" fill="none" stroke="#00d200" stroke-width="4.5"/>
<circle cx="1335.9" cy="1671.1" r="16.6" fill="none" stroke="#00d200" stroke-width="4.5"/>
<circle cx="1390.7" cy="1655.6" r="16.6" fill="none" stroke="#00d200" stroke-width="4.5"/>
<circle cx="1447.5" cy="1641.0" r="16.6" fill="none" stroke="#00d200" stroke-width="4.5"/>
<circle cx="1507.2" cy="1639.7" r="16.6" fill="none" stroke="#00d200" stroke-width="4.5"/>
<circle cx="1568.9" cy="1643.3" r="16.6" fill="none" stroke="#00d200" stroke-width="4.5"/>
<circle cx="1632.9" cy="1641.9" r="16.6" fill="none" stroke="#00d200" stroke-width="4.5"/>
<circle cx="1699.8" cy="1638.6" r="16.6" fill="none" stroke="#00d200" stroke-width="4.5"/>
<circle cx="1768.1" cy="1644.7" r="16.6" fill="none" stroke="#00d200" stroke-width="4.5"/>
<circle cx="1838.5" cy="1649.7" r="16.6" fill="none" stroke="#00d200" stroke-width="4.5"/>
<circle cx="1910.4" cy="1653.6" r="16.6" fill="none" stroke="#00d200" stroke-width="4.5"/>
<circle cx="1984.4" cy="1657.1" r="16.6" fill="none" stroke="#00d200" stroke-width="4.5"/>
<circle cx="2060.5" cy="1661.0" r="16.6" fill="none" stroke="#00d200" stroke-width="4.5"/>
<circle cx="2137.1" cy="1666.3" r="16.6" fill="none" stroke="#00d200" stroke-width="4.5"/>
<circle cx="2215.5" cy="1670.7" r="16.6" fill="none" stroke="#00d200" stroke-width="4.5"/>
<path d="M284.5 1166.0 C304.8 1167.6 326.7 1169.1 345.4 1170.9 C361.4 1172.5 375.5 1172.9 390.0 1176.0 C404.5 1179.1 419.0 1184.2 432.6 1189.7 C445.7 1195.0 458.6 1200.9 470.0 1208.0 C480.8 1214.7 491.0 1222.2 499.5 1230.8 C507.6 1239.0 514.3 1249.7 520.0 1258.0 C524.6 1264.7 527.6 1269.1 531.7 1276.7 C537.6 1287.6 545.1 1305.2 550.8 1318.1 C555.7 1329.3 560.8 1340.6 564.1 1349.8 C566.6 1356.7 567.5 1361.4 569.6 1368.2 C572.3 1376.9 575.8 1387.8 578.8 1397.6 C581.8 1407.5 584.6 1417.6 587.4 1427.3 C590.1 1436.6 592.5 1445.4 595.3 1454.5 C598.2 1463.7 601.3 1473.3 604.5 1482.0 C607.5 1490.1 610.5 1496.9 614.0 1505.0 C618.0 1514.3 622.8 1525.4 627.6 1534.6 C631.9 1543.0 636.1 1551.1 641.2 1558.1 C645.8 1564.5 651.0 1570.3 656.4 1575.0 C661.3 1579.3 666.2 1582.7 672.0 1585.6 C678.2 1588.8 686.1 1590.9 692.6 1593.0 C698.3 1594.8 703.0 1596.4 708.8 1597.6 C715.3 1598.9 722.9 1599.9 729.9 1600.3 C736.9 1600.7 743.8 1600.6 751.0 1600.3 C758.7 1600.0 767.0 1599.8 774.9 1598.5 C782.9 1597.2 790.8 1594.8 798.8 1592.4 C807.1 1589.9 815.4 1586.3 824.0 1583.8 C832.8 1581.3 843.4 1578.4 851.1 1577.4 C856.8 1576.7 861.0 1576.4 866.0 1577.0 C871.2 1577.6 875.7 1578.6 881.5 1581.0 C890.1 1584.5 902.1 1590.5 911.8 1598.5 C923.4 1608.1 935.7 1624.8 944.6 1636.6 C951.7 1645.9 956.5 1653.2 962.0 1662.9 C968.1 1673.8 974.3 1689.0 979.1 1699.0 C982.5 1706.0 984.5 1710.3 987.8 1717.0 C992.0 1725.4 997.6 1736.5 1002.5 1745.5 C1006.9 1753.7 1010.5 1761.2 1015.7 1768.9 C1021.3 1777.2 1028.4 1786.9 1035.5 1793.3 C1041.6 1798.8 1048.8 1802.9 1054.8 1806.1 C1059.6 1808.7 1063.1 1810.2 1068.6 1811.7 C1076.1 1813.7 1087.2 1815.0 1096.1 1815.5 C1104.3 1816.0 1112.4 1815.7 1120.0 1815.0 C1126.9 1814.4 1132.6 1814.1 1139.7 1812.0 C1148.8 1809.4 1161.5 1804.2 1169.6 1798.8 C1176.2 1794.4 1180.0 1789.2 1185.6 1783.6 C1192.1 1777.1 1198.9 1769.4 1206.4 1762.1 C1214.6 1754.0 1223.6 1745.2 1233.0 1737.3 C1242.6 1729.2 1254.3 1720.9 1263.3 1714.3 C1270.4 1709.1 1276.5 1705.1 1282.6 1700.9 C1288.0 1697.1 1292.6 1693.4 1298.0 1690.2 C1303.6 1686.9 1309.8 1684.3 1315.9 1681.2 C1322.4 1677.9 1328.9 1674.1 1335.9 1671.1 C1343.1 1668.0 1350.3 1665.4 1358.6 1663.0 C1368.3 1660.2 1380.0 1658.7 1390.7 1655.6 C1401.7 1652.4 1413.5 1646.6 1423.7 1644.2 C1432.2 1642.2 1439.8 1641.9 1447.5 1641.0 C1454.7 1640.2 1460.5 1639.3 1468.6 1639.0 C1479.5 1638.6 1495.0 1639.3 1507.2 1639.7 C1518.1 1640.1 1527.9 1640.7 1538.2 1641.3 C1548.5 1641.9 1558.6 1643.0 1568.9 1643.3 C1579.2 1643.6 1589.5 1643.2 1600.0 1643.0 C1610.8 1642.8 1621.4 1642.6 1632.9 1641.9 C1645.6 1641.1 1660.9 1639.0 1672.9 1638.5 C1682.7 1638.1 1688.8 1638.1 1699.8 1638.6 C1717.4 1639.4 1745.2 1642.9 1768.1 1644.7 C1791.4 1646.6 1814.9 1648.2 1838.5 1649.7 C1862.3 1651.2 1886.3 1652.4 1910.4 1653.6 C1934.9 1654.8 1959.6 1655.9 1984.4 1657.1 C2009.6 1658.3 2035.1 1659.5 2060.5 1661.0 C2086.0 1662.5 2111.4 1664.7 2137.1 1666.3 C2163.1 1667.9 2192.8 1669.6 2215.5 1670.7 C2232.9 1671.5 2246.3 1671.9 2261.7 1672.5" fill="none" stroke="#00d200" stroke-width="9.5" stroke-linejoin="round" stroke-dasharray="24 22"/>
<path d="M391.1 1161.4 L407.9 1178.7 L391.1 1196.0 L374.3 1178.7 Z" fill="none" stroke="#d20000" stroke-width="4.5" stroke-miterlimit="10"/>
<path d="M479.9 1183.8 L496.7 1201.1 L479.9 1218.4 L463.1 1201.1 Z" fill="none" stroke="#d20000" stroke-width="4.5" stroke-miterlimit="10"/>
<path d="M542.3 1242.9 L559.1 1260.2 L542.3 1277.5 L525.5 1260.2 Z" fill="none" stroke="#d20000" stroke-width="4.5" stroke-miterlimit="10"/>
<path d="M587.7 1331.1 L604.5 1348.4 L587.7 1365.7 L570.9 1348.4 Z" fill="none" stroke="#d20000" stroke-width="4.5" stroke-miterlimit="10"/>
<path d="M615.5 1388.5 L632.3 1405.8 L615.5 1423.1 L598.7 1405.8 Z" fill="none" stroke="#d20000" stroke-width="4.5" stroke-miterlimit="10"/>
<path d="M630.2 1402.3 L647.0 1419.6 L630.2 1436.9 L613.4 1419.6 Z" fill="none" stroke="#d20000" stroke-width="4.5" stroke-miterlimit="10"/>
<path d="M648.6 1422.7 L665.4 1440.0 L648.6 1457.3 L631.8 1440.0 Z" fill="none" stroke="#d20000" stroke-width="4.5" stroke-miterlimit="10"/>
<path d="M667.9 1438.7 L684.7 1456.0 L667.9 1473.3 L651.1 1456.0 Z" fill="none" stroke="#d20000" stroke-width="4.5" stroke-miterlimit="10"/>
<path d="M688.1 1445.5 L704.9 1462.8 L688.1 1480.1 L671.3 1462.8 Z" fill="none" stroke="#d20000" stroke-width="4.5" stroke-miterlimit="10"/>
<path d="M709.7 1450.1 L726.5 1467.4 L709.7 1484.7 L692.9 1467.4 Z" fill="none" stroke="#d20000" stroke-width="4.5" stroke-miterlimit="10"/>
<path d="M733.1 1451.5 L749.9 1468.8 L733.1 1486.1 L716.3 1468.8 Z" fill="none" stroke="#d20000" stroke-width="4.5" stroke-miterlimit="10"/>
<path d="M758.8 1450.6 L775.6 1467.9 L758.8 1485.2 L742.0 1467.9 Z" fill="none" stroke="#d20000" stroke-width="4.5" stroke-miterlimit="10"/>
<path d="M785.4 1445.5 L802.2 1462.8 L785.4 1480.1 L768.6 1462.8 Z" fill="none" stroke="#d20000" stroke-width="4.5" stroke-miterlimit="10"/>
<path d="M814.8 1439.0 L831.6 1456.3 L814.8 1473.6 L798.0 1456.3 Z" fill="none" stroke="#d20000" stroke-width="4.5" stroke-miterlimit="10"/>
<path d="M847.0 1435.4 L863.8 1452.7 L847.0 1470.0 L830.2 1452.7 Z" fill="none" stroke="#d20000" stroke-width="4.5" stroke-miterlimit="10"/>
<path d="M880.7 1441.6 L897.5 1458.9 L880.7 1476.2 L863.9 1458.9 Z" fill="none" stroke="#d20000" stroke-width="4.5" stroke-miterlimit="10"/>
<path d="M917.2 1460.3 L934.0 1477.6 L917.2 1494.9 L900.4 1477.6 Z" fill="none" stroke="#d20000" stroke-width="4.5" stroke-miterlimit="10"/>
<path d="M955.6 1500.0 L972.4 1517.3 L955.6 1534.6 L938.8 1517.3 Z" fill="none" stroke="#d20000" stroke-width="4.5" stroke-miterlimit="10"/>
<path d="M997.9 1551.9 L1014.7 1569.2 L997.9 1586.5 L981.1 1569.2 Z" fill="none" stroke="#d20000" stroke-width="4.5" stroke-miterlimit="10"/>
<path d="M1042.3 1591.4 L1059.1 1608.7 L1042.3 1626.0 L1025.5 1608.7 Z" fill="none" stroke="#d20000" stroke-width="4.5" stroke-miterlimit="10"/>
<path d="M1089.2 1604.6 L1106.0 1621.9 L1089.2 1639.2 L1072.4 1621.9 Z" fill="none" stroke="#d20000" stroke-width="4.5" stroke-miterlimit="10"/>
<path d="M1139.3 1598.7 L1156.1 1616.0 L1139.3 1633.3 L1122.5 1616.0 Z" fill="none" stroke="#d20000" stroke-width="4.5" stroke-miterlimit="10"/>
<path d="M1192.9 1576.1 L1209.7 1593.4 L1192.9 1610.7 L1176.1 1593.4 Z" fill="none" stroke="#d20000" stroke-width="4.5" stroke-miterlimit="10"/>
<path d="M1250.0 1550.0 L1266.8 1567.3 L1250.0 1584.6 L1233.2 1567.3 Z" fill="none" stroke="#d20000" stroke-width="4.5" stroke-miterlimit="10"/>
<path d="M1309.2 1520.7 L1326.0 1538.0 L1309.2 1555.3 L1292.4 1538.0 Z" fill="none" stroke="#d20000" stroke-width="4.5" stroke-miterlimit="10"/>
<path d="M1372.0 1501.6 L1388.8 1518.9 L1372.0 1536.2 L1355.2 1518.9 Z" fill="none" stroke="#d20000" stroke-width="4.5" stroke-miterlimit="10"/>
<path d="M1438.3 1488.1 L1455.1 1505.4 L1438.3 1522.7 L1421.5 1505.4 Z" fill="none" stroke="#d20000" stroke-width="4.5" stroke-miterlimit="10"/>
<path d="M1507.2 1484.7 L1524.0 1502.0 L1507.2 1519.3 L1490.4 1502.0 Z" fill="none" stroke="#d20000" stroke-width="4.5" stroke-miterlimit="10"/>
<path d="M1579.2 1480.3 L1596.0 1497.6 L1579.2 1514.9 L1562.4 1497.6 Z" fill="none" stroke="#d20000" stroke-width="4.5" stroke-miterlimit="10"/>
<path d="M1655.1 1480.3 L1671.9 1497.6 L1655.1 1514.9 L1638.3 1497.6 Z" fill="none" stroke="#d20000" stroke-width="4.5" stroke-miterlimit="10"/>
<path d="M1733.4 1484.5 L1750.2 1501.8 L1733.4 1519.1 L1716.6 1501.8 Z" fill="none" stroke="#d20000" stroke-width="4.5" stroke-miterlimit="10"/>
<path d="M1815.1 1488.7 L1831.9 1506.0 L1815.1 1523.3 L1798.3 1506.0 Z" fill="none" stroke="#d20000" stroke-width="4.5" stroke-miterlimit="10"/>
<path d="M1898.3 1492.2 L1915.1 1509.5 L1898.3 1526.8 L1881.5 1509.5 Z" fill="none" stroke="#d20000" stroke-width="4.5" stroke-miterlimit="10"/>
<path d="M1984.7 1496.7 L2001.5 1514.0 L1984.7 1531.3 L1967.9 1514.0 Z" fill="none" stroke="#d20000" stroke-width="4.5" stroke-miterlimit="10"/>
<path d="M2073.2 1500.5 L2090.0 1517.8 L2073.2 1535.1 L2056.4 1517.8 Z" fill="none" stroke="#d20000" stroke-width="4.5" stroke-miterlimit="10"/>
<path d="M2163.4 1504.4 L2180.2 1521.7 L2163.4 1539.0 L2146.6 1521.7 Z" fill="none" stroke="#d20000" stroke-width="4.5" stroke-miterlimit="10"/>
<path d="M2255.2 1508.5 L2272.0 1525.8 L2255.2 1543.1 L2238.4 1525.8 Z" fill="none" stroke="#d20000" stroke-width="4.5" stroke-miterlimit="10"/>
<path d="M284.5 1167.0 C301.3 1168.0 319.5 1168.3 335.0 1170.0 C348.3 1171.4 361.5 1174.1 371.8 1175.7 C379.3 1176.9 383.7 1177.4 391.1 1178.7 C401.2 1180.5 415.0 1183.3 427.0 1185.8 C439.2 1188.4 454.0 1191.0 463.7 1194.1 C470.3 1196.3 475.0 1198.8 479.9 1201.1 C484.0 1203.1 486.8 1204.0 491.2 1207.0 C498.6 1212.0 510.7 1223.0 518.8 1230.8 C525.8 1237.6 533.2 1245.4 537.2 1251.0 C539.7 1254.5 540.1 1256.7 542.3 1260.2 C545.6 1265.4 551.3 1271.6 555.5 1278.6 C560.6 1287.1 565.5 1298.5 570.2 1308.0 C574.6 1316.9 580.0 1326.8 583.1 1333.7 C585.1 1338.2 585.8 1340.9 587.7 1345.0 C590.0 1350.0 594.0 1356.0 595.9 1361.2 C597.5 1365.5 597.3 1369.4 599.0 1373.7 C601.1 1379.0 605.2 1385.2 608.2 1390.2 C610.8 1394.5 613.4 1398.2 615.9 1402.0 C618.3 1405.6 620.4 1409.3 622.9 1412.3 C625.2 1415.1 627.3 1416.7 630.2 1419.6 C634.3 1423.7 639.4 1429.3 644.9 1434.3 C651.4 1440.2 658.9 1447.5 667.0 1452.7 C675.4 1458.0 685.1 1462.8 694.5 1465.5 C703.5 1468.1 712.1 1468.8 722.0 1469.2 C733.4 1469.7 747.5 1468.8 758.8 1467.4 C768.7 1466.2 777.1 1463.7 786.3 1461.9 C795.5 1460.0 805.3 1458.0 813.9 1456.3 C821.4 1454.8 828.5 1452.7 835.0 1452.0 C840.4 1451.5 845.0 1451.7 850.0 1452.0 C855.0 1452.3 859.9 1452.8 865.0 1454.0 C870.6 1455.3 875.8 1456.8 882.4 1459.6 C891.9 1463.6 906.3 1471.1 916.1 1477.6 C924.6 1483.2 931.9 1488.8 938.6 1495.5 C945.3 1502.2 950.6 1511.0 956.5 1518.0 C961.8 1524.4 966.8 1529.8 972.2 1535.9 C978.0 1542.4 985.4 1550.1 990.2 1556.1 C993.7 1560.5 995.1 1563.4 998.8 1568.0 C1004.3 1574.9 1012.4 1585.6 1020.8 1593.1 C1029.5 1600.8 1039.4 1608.4 1050.2 1613.3 C1061.4 1618.3 1075.4 1621.4 1087.0 1622.5 C1097.2 1623.4 1106.9 1622.2 1116.3 1620.6 C1125.2 1619.1 1133.4 1616.3 1142.0 1613.3 C1151.1 1610.2 1160.4 1605.9 1169.6 1602.2 C1178.8 1598.5 1188.1 1595.1 1197.2 1591.2 C1206.4 1587.2 1215.5 1582.7 1224.7 1578.4 C1233.9 1574.1 1242.8 1570.1 1252.3 1565.5 C1262.7 1560.5 1274.4 1554.0 1284.5 1549.2 C1293.2 1545.0 1300.6 1541.6 1309.2 1538.0 C1318.5 1534.1 1328.2 1530.0 1338.4 1526.7 C1349.1 1523.2 1360.8 1520.6 1372.0 1517.8 C1383.2 1515.0 1394.5 1512.1 1405.7 1509.9 C1416.6 1507.8 1426.6 1505.9 1438.3 1504.7 C1451.8 1503.3 1467.3 1503.5 1482.0 1502.7 C1496.9 1501.9 1511.4 1500.6 1526.9 1499.8 C1543.5 1498.9 1559.7 1498.0 1578.6 1497.6 C1601.6 1497.1 1630.5 1497.1 1654.9 1497.6 C1677.5 1498.1 1706.5 1499.5 1720.0 1500.5 C1726.2 1500.9 1727.0 1501.3 1733.4 1501.8 C1749.1 1503.0 1787.7 1504.7 1815.1 1506.0 C1842.7 1507.3 1870.3 1508.2 1898.3 1509.5 C1926.8 1510.8 1955.7 1512.6 1984.7 1514.0 C2014.0 1515.4 2043.6 1516.5 2073.2 1517.8 C2103.1 1519.1 2132.7 1520.4 2163.4 1521.7 C2195.5 1523.1 2228.9 1524.6 2261.7 1526.0" fill="none" stroke="#d20000" stroke-width="9.5" stroke-linejoin="round" stroke-dasharray="24 7.6 6 8.4"/>
<rect x="299.4" y="1158.7" width="25.2" height="25.2" fill="none" stroke="#000050" stroke-width="4.5"/>
<rect x="419.9" y="1165.0" width="25.2" height="25.2" fill="none" stroke="#000050" stroke-width="4.5"/>
<rect x="506.2" y="1189.9" width="25.2" height="25.2" fill="none" stroke="#000050" stroke-width="4.5"/>
<rect x="564.2" y="1241.2" width="25.2" height="25.2" fill="none" stroke="#000050" stroke-width="4.5"/>
<rect x="601.4" y="1282.2" width="25.2" height="25.2" fill="none" stroke="#000050" stroke-width="4.5"/>
<rect x="619.5" y="1295.5" width="25.2" height="25.2" fill="none" stroke="#000050" stroke-width="4.5"/>
<rect x="639.7" y="1304.5" width="25.2" height="25.2" fill="none" stroke="#000050" stroke-width="4.5"/>
<rect x="660.4" y="1309.6" width="25.2" height="25.2" fill="none" stroke="#000050" stroke-width="4.5"/>
<rect x="684.1" y="1311.9" width="25.2" height="25.2" fill="none" stroke="#000050" stroke-width="4.5"/>
<rect x="710.7" y="1311.9" width="25.2" height="25.2" fill="none" stroke="#000050" stroke-width="4.5"/>
<rect x="738.7" y="1310.9" width="25.2" height="25.2" fill="none" stroke="#000050" stroke-width="4.5"/>
<rect x="769.2" y="1308.2" width="25.2" height="25.2" fill="none" stroke="#000050" stroke-width="4.5"/>
<rect x="802.2" y="1308.2" width="25.2" height="25.2" fill="none" stroke="#000050" stroke-width="4.5"/>
<rect x="838.4" y="1309.8" width="25.2" height="25.2" fill="none" stroke="#000050" stroke-width="4.5"/>
<rect x="878.6" y="1314.1" width="25.2" height="25.2" fill="none" stroke="#000050" stroke-width="4.5"/>
<rect x="920.4" y="1322.8" width="25.2" height="25.2" fill="none" stroke="#000050" stroke-width="4.5"/>
<rect x="966.6" y="1348.2" width="25.2" height="25.2" fill="none" stroke="#000050" stroke-width="4.5"/>
<rect x="1016.4" y="1382.3" width="25.2" height="25.2" fill="none" stroke="#000050" stroke-width="4.5"/>
<rect x="1069.2" y="1386.6" width="25.2" height="25.2" fill="none" stroke="#000050" stroke-width="4.5"/>
<rect x="1126.9" y="1378.3" width="25.2" height="25.2" fill="none" stroke="#000050" stroke-width="4.5"/>
<rect x="1188.2" y="1364.2" width="25.2" height="25.2" fill="none" stroke="#000050" stroke-width="4.5"/>
<rect x="1253.3" y="1351.4" width="25.2" height="25.2" fill="none" stroke="#000050" stroke-width="4.5"/>
<rect x="1323.3" y="1337.2" width="25.2" height="25.2" fill="none" stroke="#000050" stroke-width="4.5"/>
<rect x="1396.3" y="1335.2" width="25.2" height="25.2" fill="none" stroke="#000050" stroke-width="4.5"/>
<rect x="1474.4" y="1332.3" width="25.2" height="25.2" fill="none" stroke="#000050" stroke-width="4.5"/>
<rect x="1556.3" y="1332.3" width="25.2" height="25.2" fill="none" stroke="#000050" stroke-width="4.5"/>
<rect x="1642.5" y="1335.2" width="25.2" height="25.2" fill="none" stroke="#000050" stroke-width="4.5"/>
<rect x="1732.4" y="1336.5" width="25.2" height="25.2" fill="none" stroke="#000050" stroke-width="4.5"/>
<rect x="1825.9" y="1339.5" width="25.2" height="25.2" fill="none" stroke="#000050" stroke-width="4.5"/>
<rect x="1922.4" y="1342.7" width="25.2" height="25.2" fill="none" stroke="#000050" stroke-width="4.5"/>
<rect x="2022.4" y="1346.3" width="25.2" height="25.2" fill="none" stroke="#000050" stroke-width="4.5"/>
<rect x="2124.8" y="1349.3" width="25.2" height="25.2" fill="none" stroke="#000050" stroke-width="4.5"/>
<rect x="2229.3" y="1353.1" width="25.2" height="25.2" fill="none" stroke="#000050" stroke-width="4.5"/>
<path d="M284.5 1171.0 C293.7 1171.1 303.2 1170.9 312.0 1171.3 C320.0 1171.6 325.2 1172.5 335.1 1173.0 C352.7 1174.0 390.8 1174.7 408.6 1175.7 C418.8 1176.3 424.7 1176.8 432.5 1177.6 C440.0 1178.4 445.9 1178.7 454.5 1180.3 C467.1 1182.7 488.8 1187.5 500.4 1192.2 C508.2 1195.3 512.5 1199.2 518.8 1202.5 C525.3 1205.9 532.5 1207.8 539.0 1212.5 C546.6 1218.0 554.4 1227.2 561.0 1234.5 C566.9 1241.0 573.2 1249.0 576.8 1253.8 C578.8 1256.5 579.0 1257.6 581.2 1260.2 C585.6 1265.5 597.4 1275.9 603.3 1282.3 C607.5 1286.9 609.4 1290.7 613.7 1294.7 C619.1 1299.7 626.6 1305.3 633.9 1309.4 C641.3 1313.6 649.4 1317.1 657.8 1319.5 C666.5 1322.0 675.4 1323.2 685.3 1324.1 C696.6 1325.2 709.8 1325.3 722.0 1325.0 C734.3 1324.7 746.5 1323.1 758.8 1322.2 C771.0 1321.3 783.3 1320.0 795.5 1319.5 C807.8 1319.0 820.1 1318.9 832.3 1319.5 C844.6 1320.1 858.0 1321.8 869.0 1323.2 C878.1 1324.4 884.9 1325.5 893.7 1327.1 C904.1 1329.0 917.0 1331.5 927.3 1333.9 C936.2 1336.0 944.5 1336.9 952.0 1340.6 C959.5 1344.3 964.7 1350.7 972.2 1356.3 C981.5 1363.2 993.8 1372.1 1003.7 1378.8 C1012.4 1384.6 1019.6 1391.1 1028.4 1394.5 C1036.9 1397.7 1046.1 1398.2 1055.3 1399.0 C1064.8 1399.8 1074.4 1399.7 1084.5 1399.0 C1095.4 1398.3 1107.0 1396.7 1118.2 1394.5 C1129.5 1392.2 1139.7 1388.3 1151.8 1385.5 C1165.6 1382.3 1181.7 1379.5 1196.7 1376.5 C1211.7 1373.5 1227.2 1370.4 1241.6 1367.6 C1254.9 1365.0 1268.4 1362.7 1280.0 1360.0 C1289.8 1357.7 1297.7 1354.7 1306.9 1352.8 C1316.4 1350.8 1324.8 1349.2 1336.1 1348.3 C1351.7 1347.0 1372.6 1348.0 1392.2 1347.6 C1413.6 1347.2 1437.1 1346.5 1459.6 1346.0 C1482.0 1345.6 1504.5 1344.9 1526.9 1344.9 C1549.4 1344.9 1571.8 1345.5 1594.3 1346.0 C1616.7 1346.4 1640.0 1347.2 1661.6 1347.6 C1681.8 1348.0 1704.6 1348.0 1720.0 1348.3 C1730.1 1348.5 1734.0 1348.7 1745.0 1349.1 C1766.2 1349.8 1807.1 1351.1 1838.5 1352.1 C1870.4 1353.1 1902.5 1354.2 1935.0 1355.3 C1968.0 1356.4 2001.5 1357.8 2035.0 1358.9 C2068.9 1360.0 2103.1 1360.8 2137.4 1361.9 C2172.1 1363.0 2220.8 1365.0 2241.9 1365.7 C2251.1 1366.0 2255.1 1366.1 2261.7 1366.3" fill="none" stroke="#000050" stroke-width="9.5" stroke-linejoin="round" stroke-dasharray="35 11"/>
</g>
<line x1="1633.7" y1="637.0" x2="1893.0" y2="637.0" stroke="#000000" stroke-width="10"/>
<text x="1933.0" y="654.3" font-size="58.5">Re</text>
<text x="2011.5" y="659.3" font-size="58.5" stroke="#000" stroke-width="0.8">=</text>
<text x="2056.5" y="654.3" font-size="58.5">2000</text>
<circle cx="1763.3" cy="705.9" r="16.3" fill="none" stroke="#00d200" stroke-width="1.4"/>
<line x1="1633.7" y1="705.9" x2="1893.0" y2="705.9" stroke="#00d200" stroke-width="10" stroke-dasharray="24 22"/>
<text x="1933.0" y="723.2" font-size="58.5">Re</text>
<text x="2011.5" y="728.2" font-size="58.5" stroke="#000" stroke-width="0.8">=</text>
<text x="2056.5" y="723.2" font-size="58.5">1700</text>
<path d="M1763.3 756.4 L1778.0 774.0 L1763.3 791.6 L1748.6 774.0 Z" fill="none" stroke="#d20000" stroke-width="1.4" stroke-miterlimit="10"/>
<line x1="1633.7" y1="774.0" x2="1893.0" y2="774.0" stroke="#d20000" stroke-width="10" stroke-dasharray="24 7.6 6 8.4"/>
<text x="1933.0" y="791.1" font-size="58.5">Re</text>
<text x="2011.5" y="796.1" font-size="58.5" stroke="#000" stroke-width="0.8">=</text>
<text x="2056.5" y="791.1" font-size="58.5">1400</text>
<rect x="1751.2" y="830.9" width="24.2" height="24.2" fill="none" stroke="#000050" stroke-width="1.4"/>
<line x1="1633.7" y1="843.0" x2="1893.0" y2="843.0" stroke="#000050" stroke-width="10" stroke-dasharray="35 11"/>
<text x="1933.0" y="860.0" font-size="58.5">Re</text>
<text x="2011.5" y="865.0" font-size="58.5" stroke="#000" stroke-width="0.8">=</text>
<text x="2056.5" y="860.0" font-size="58.5">1000</text>
<line x1="333.7" y1="1818.0" x2="592.3" y2="1818.0" stroke="#000000" stroke-width="10"/>
<text x="633.0" y="1835.7" font-size="58.5">Re</text>
<text x="711.5" y="1840.7" font-size="58.5" stroke="#000" stroke-width="0.8">=</text>
<text x="756.5" y="1835.7" font-size="58.5">2000</text>
<circle cx="463.0" cy="1886.8" r="17.9" fill="none" stroke="#00d200" stroke-width="4.5"/>
<line x1="333.7" y1="1886.8" x2="592.3" y2="1886.8" stroke="#00d200" stroke-width="10" stroke-dasharray="24 22"/>
<text x="633.0" y="1904.6" font-size="58.5">Re</text>
<text x="711.5" y="1909.6" font-size="58.5" stroke="#000" stroke-width="0.8">=</text>
<text x="756.5" y="1904.6" font-size="58.5">1700</text>
<path d="M463.0 1937.3 L478.0 1955.1 L463.0 1972.9 L448.0 1955.1 Z" fill="none" stroke="#d20000" stroke-width="4.5" stroke-miterlimit="10"/>
<line x1="333.7" y1="1955.1" x2="592.3" y2="1955.1" stroke="#d20000" stroke-width="10" stroke-dasharray="24 7.6 6 8.4"/>
<text x="633.0" y="1973.5" font-size="58.5">Re</text>
<text x="711.5" y="1978.5" font-size="58.5" stroke="#000" stroke-width="0.8">=</text>
<text x="756.5" y="1973.5" font-size="58.5">1400</text>
<rect x="450.2" y="2011.2" width="25.5" height="25.5" fill="none" stroke="#000050" stroke-width="4.5"/>
<line x1="333.7" y1="2024.0" x2="592.3" y2="2024.0" stroke="#000050" stroke-width="10" stroke-dasharray="35 11"/>
<text x="633.0" y="2040.8" font-size="58.5">Re</text>
<text x="711.5" y="2045.8" font-size="58.5" stroke="#000" stroke-width="0.8">=</text>
<text x="756.5" y="2040.8" font-size="58.5">1000</text>
</svg></body></html>
